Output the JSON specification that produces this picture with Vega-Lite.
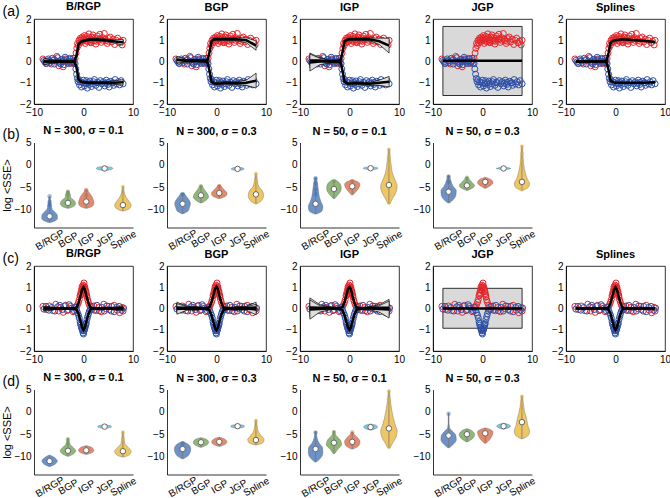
{
"$schema":"https://vega.github.io/schema/vega-lite/v6.json",
"padding":{"left":1,"top":0,"right":0,"bottom":0},
"background":"white",
"config":{
 "font":"Liberation Sans",
 "view":{"stroke":null},
 "axis":{"labelFont":"Liberation Sans","labelFontSize":10,"labelColor":"#000","domainColor":"#000","domainWidth":0.8,"ticks":false,"grid":false,"labelPadding":3,"labelOverlap":false,"labelFlush":false,"tickCount":20,"titleFont":"Liberation Sans","titleFontSize":11,"titleFontWeight":"normal","titleColor":"#000","titlePadding":2},
 "title":{"font":"Liberation Sans","fontSize":11,"fontWeight":"bold","color":"#000","offset":0,"dy":3,"frame":"group"}
},
"resolve":{"scale":{"color":"independent"}},
"datasets":{
"ptsA":[
{"x":-8.2,"y":0.12,"s":"r"},{"x":-7.6,"y":-0.08,"s":"r"},{"x":-7.0,"y":0.05,"s":"r"},{"x":-6.5,"y":-0.12,"s":"r"},{"x":-5.9,"y":0.1,"s":"r"},{"x":-5.4,"y":0.24,"s":"r"},{"x":-5.0,"y":-0.2,"s":"r"},{"x":-4.5,"y":0.08,"s":"r"},{"x":-4.1,"y":-0.25,"s":"r"},{"x":-3.6,"y":0.12,"s":"r"},{"x":-3.2,"y":-0.06,"s":"r"},{"x":-2.8,"y":0.15,"s":"r"},{"x":-2.4,"y":-0.1,"s":"r"},{"x":-2.0,"y":0.05,"s":"r"},{"x":-1.7,"y":0.15,"s":"r"},{"x":-1.5,"y":0.4,"s":"r"},{"x":-1.35,"y":0.62,"s":"r"},{"x":-1.2,"y":0.85,"s":"r"},{"x":-1.05,"y":0.75,"s":"r"},{"x":-0.9,"y":1.0,"s":"r"},{"x":-0.75,"y":0.88,"s":"r"},{"x":-0.6,"y":1.1,"s":"r"},{"x":-0.4,"y":0.92,"s":"r"},{"x":-0.2,"y":1.15,"s":"r"},{"x":0.0,"y":0.98,"s":"r"},{"x":0.2,"y":1.22,"s":"r"},{"x":0.35,"y":0.85,"s":"r"},{"x":0.5,"y":1.05,"s":"r"},{"x":0.7,"y":1.18,"s":"r"},{"x":0.9,"y":0.95,"s":"r"},{"x":1.1,"y":1.3,"s":"r"},{"x":1.3,"y":1.02,"s":"r"},{"x":1.5,"y":0.88,"s":"r"},{"x":1.7,"y":1.15,"s":"r"},{"x":1.9,"y":1.25,"s":"r"},{"x":2.1,"y":0.97,"s":"r"},{"x":2.3,"y":1.1,"s":"r"},{"x":2.5,"y":0.82,"s":"r"},{"x":2.8,"y":1.2,"s":"r"},{"x":3.0,"y":1.0,"s":"r"},{"x":3.3,"y":1.28,"s":"r"},{"x":3.6,"y":0.9,"s":"r"},{"x":3.9,"y":1.12,"s":"r"},{"x":4.2,"y":1.32,"s":"r"},{"x":4.5,"y":0.98,"s":"r"},{"x":4.8,"y":0.85,"s":"r"},{"x":5.1,"y":1.08,"s":"r"},{"x":5.4,"y":1.15,"s":"r"},{"x":5.7,"y":0.92,"s":"r"},{"x":6.0,"y":1.05,"s":"r"},{"x":6.3,"y":0.8,"s":"r"},{"x":6.6,"y":1.0,"s":"r"},{"x":6.9,"y":1.1,"s":"r"},{"x":7.2,"y":0.88,"s":"r"},{"x":7.5,"y":0.95,"s":"r"},{"x":7.8,"y":0.78,"s":"r"},{"x":8.0,"y":1.0,"s":"r"},{"x":0.1,"y":1.05,"s":"r"},{"x":0.6,"y":0.95,"s":"r"},{"x":1.2,"y":1.12,"s":"r"},{"x":1.6,"y":1.0,"s":"r"},{"x":2.0,"y":1.05,"s":"r"},{"x":2.6,"y":0.95,"s":"r"},{"x":3.2,"y":1.08,"s":"r"},{"x":3.8,"y":1.0,"s":"r"},{"x":4.4,"y":1.05,"s":"r"},{"x":5.0,"y":0.95,"s":"r"},{"x":-0.5,"y":1.0,"s":"r"},{"x":-0.1,"y":1.08,"s":"r"},{"x":0.8,"y":1.08,"s":"r"},{"x":1.4,"y":0.92,"s":"r"},{"x":2.4,"y":1.0,"s":"r"},{"x":3.5,"y":1.05,"s":"r"},
{"x":-8.0,"y":0.05,"s":"b"},{"x":-7.5,"y":-0.1,"s":"b"},{"x":-7.1,"y":0.12,"s":"b"},{"x":-6.7,"y":-0.05,"s":"b"},{"x":-6.3,"y":0.15,"s":"b"},{"x":-5.9,"y":-0.12,"s":"b"},{"x":-5.5,"y":0.02,"s":"b"},{"x":-5.2,"y":0.18,"s":"b"},{"x":-4.8,"y":-0.08,"s":"b"},{"x":-4.4,"y":0.1,"s":"b"},{"x":-4.0,"y":-0.15,"s":"b"},{"x":-3.7,"y":0.2,"s":"b"},{"x":-3.3,"y":0.0,"s":"b"},{"x":-3.0,"y":-0.1,"s":"b"},{"x":-2.7,"y":0.12,"s":"b"},{"x":-2.4,"y":-0.05,"s":"b"},{"x":-2.1,"y":0.15,"s":"b"},{"x":-1.9,"y":-0.08,"s":"b"},{"x":-6.0,"y":0.05,"s":"b"},{"x":-5.0,"y":-0.02,"s":"b"},{"x":-4.2,"y":0.0,"s":"b"},{"x":-3.5,"y":0.08,"s":"b"},{"x":-2.9,"y":0.02,"s":"b"},{"x":-2.2,"y":0.0,"s":"b"},{"x":-7.8,"y":-0.02,"s":"b"},{"x":-6.9,"y":0.02,"s":"b"},{"x":-4.6,"y":-0.12,"s":"b"},{"x":-3.9,"y":0.05,"s":"b"},{"x":-1.7,"y":-0.1,"s":"b"},{"x":-1.55,"y":-0.35,"s":"b"},{"x":-1.4,"y":-0.6,"s":"b"},{"x":-1.25,"y":-0.8,"s":"b"},{"x":-1.1,"y":-0.95,"s":"b"},{"x":-0.95,"y":-0.85,"s":"b"},{"x":-0.8,"y":-1.1,"s":"b"},{"x":-0.6,"y":-0.95,"s":"b"},{"x":-0.4,"y":-1.2,"s":"b"},{"x":-0.2,"y":-1.0,"s":"b"},{"x":0.0,"y":-0.88,"s":"b"},{"x":0.2,"y":-1.15,"s":"b"},{"x":0.4,"y":-1.05,"s":"b"},{"x":0.6,"y":-0.9,"s":"b"},{"x":0.8,"y":-1.25,"s":"b"},{"x":1.0,"y":-1.0,"s":"b"},{"x":1.3,"y":-0.92,"s":"b"},{"x":1.6,"y":-1.18,"s":"b"},{"x":1.9,"y":-1.05,"s":"b"},{"x":2.2,"y":-0.85,"s":"b"},{"x":2.5,"y":-1.12,"s":"b"},{"x":2.8,"y":-0.98,"s":"b"},{"x":3.1,"y":-1.22,"s":"b"},{"x":3.4,"y":-0.9,"s":"b"},{"x":3.7,"y":-1.05,"s":"b"},{"x":4.0,"y":-0.95,"s":"b"},{"x":4.3,"y":-1.15,"s":"b"},{"x":4.6,"y":-0.88,"s":"b"},{"x":4.9,"y":-1.08,"s":"b"},{"x":5.2,"y":-1.2,"s":"b"},{"x":5.5,"y":-0.93,"s":"b"},{"x":5.8,"y":-1.0,"s":"b"},{"x":6.1,"y":-1.12,"s":"b"},{"x":6.4,"y":-0.85,"s":"b"},{"x":6.7,"y":-1.05,"s":"b"},{"x":7.0,"y":-0.95,"s":"b"},{"x":7.3,"y":-1.1,"s":"b"},{"x":7.6,"y":-0.9,"s":"b"},{"x":8.0,"y":-1.05,"s":"b"},{"x":0.5,"y":-1.0,"s":"b"},{"x":1.2,"y":-1.08,"s":"b"},{"x":2.0,"y":-0.95,"s":"b"},{"x":3.0,"y":-1.0,"s":"b"},{"x":4.4,"y":-1.02,"s":"b"},{"x":5.0,"y":-0.98,"s":"b"},{"x":6.0,"y":-1.0,"s":"b"}
],
"ptsC":[
{"x":-8.2,"y":0.1,"s":"r"},{"x":-7.5,"y":-0.05,"s":"r"},{"x":-6.9,"y":0.12,"s":"r"},{"x":-6.2,"y":-0.1,"s":"r"},{"x":-5.6,"y":0.2,"s":"r"},{"x":-5.0,"y":-0.12,"s":"r"},{"x":-4.6,"y":0.05,"s":"r"},{"x":-4.1,"y":-0.18,"s":"r"},{"x":-3.6,"y":0.15,"s":"r"},{"x":-3.1,"y":-0.05,"s":"r"},{"x":-2.6,"y":0.1,"s":"r"},{"x":-2.1,"y":-0.15,"s":"r"},{"x":-1.7,"y":0.05,"s":"r"},{"x":-1.4,"y":0.1,"s":"r"},{"x":-1.2,"y":0.18,"s":"r"},{"x":-1.0,"y":0.3,"s":"r"},{"x":-0.85,"y":0.42,"s":"r"},{"x":-0.7,"y":0.6,"s":"r"},{"x":-0.55,"y":0.75,"s":"r"},{"x":-0.4,"y":0.88,"s":"r"},{"x":-0.25,"y":0.95,"s":"r"},{"x":-0.1,"y":1.1,"s":"r"},{"x":0.0,"y":1.0,"s":"r"},{"x":0.1,"y":1.2,"s":"r"},{"x":0.25,"y":0.92,"s":"r"},{"x":0.4,"y":0.85,"s":"r"},{"x":0.55,"y":0.7,"s":"r"},{"x":0.7,"y":0.55,"s":"r"},{"x":0.85,"y":0.4,"s":"r"},{"x":1.0,"y":0.28,"s":"r"},{"x":1.2,"y":0.15,"s":"r"},{"x":1.4,"y":0.08,"s":"r"},{"x":-0.6,"y":0.62,"s":"r"},{"x":-0.3,"y":1.02,"s":"r"},{"x":0.2,"y":1.05,"s":"r"},{"x":0.5,"y":0.8,"s":"r"},{"x":-0.15,"y":0.85,"s":"r"},{"x":0.3,"y":0.98,"s":"r"},{"x":-0.45,"y":0.7,"s":"r"},{"x":0.65,"y":0.62,"s":"r"},{"x":1.7,"y":-0.05,"s":"r"},{"x":2.1,"y":0.12,"s":"r"},{"x":2.6,"y":-0.1,"s":"r"},{"x":3.1,"y":0.05,"s":"r"},{"x":3.6,"y":-0.15,"s":"r"},{"x":4.1,"y":0.2,"s":"r"},{"x":4.6,"y":-0.02,"s":"r"},{"x":5.1,"y":0.1,"s":"r"},{"x":5.6,"y":-0.12,"s":"r"},{"x":6.2,"y":0.15,"s":"r"},{"x":6.8,"y":-0.08,"s":"r"},{"x":7.3,"y":-0.2,"s":"r"},{"x":7.8,"y":0.05,"s":"r"},{"x":8.0,"y":-0.12,"s":"r"},
{"x":-8.0,"y":-0.03,"s":"b"},{"x":-7.6,"y":0.1,"s":"b"},{"x":-7.0,"y":-0.08,"s":"b"},{"x":-6.4,"y":0.05,"s":"b"},{"x":-5.8,"y":-0.12,"s":"b"},{"x":-5.2,"y":0.08,"s":"b"},{"x":-4.8,"y":0.15,"s":"b"},{"x":-4.3,"y":-0.05,"s":"b"},{"x":-3.8,"y":0.12,"s":"b"},{"x":-3.3,"y":-0.1,"s":"b"},{"x":-2.9,"y":0.18,"s":"b"},{"x":-2.4,"y":0.02,"s":"b"},{"x":-1.9,"y":-0.1,"s":"b"},{"x":-1.6,"y":0.05,"s":"b"},{"x":-1.4,"y":-0.08,"s":"b"},{"x":-1.2,"y":-0.2,"s":"b"},{"x":-1.0,"y":-0.32,"s":"b"},{"x":-0.85,"y":-0.45,"s":"b"},{"x":-0.7,"y":-0.62,"s":"b"},{"x":-0.55,"y":-0.78,"s":"b"},{"x":-0.4,"y":-0.9,"s":"b"},{"x":-0.25,"y":-1.0,"s":"b"},{"x":-0.1,"y":-1.15,"s":"b"},{"x":0.0,"y":-1.2,"s":"b"},{"x":0.1,"y":-1.05,"s":"b"},{"x":0.25,"y":-0.95,"s":"b"},{"x":0.4,"y":-0.82,"s":"b"},{"x":0.55,"y":-0.68,"s":"b"},{"x":0.7,"y":-0.52,"s":"b"},{"x":0.85,"y":-0.38,"s":"b"},{"x":1.0,"y":-0.25,"s":"b"},{"x":1.2,"y":-0.12,"s":"b"},{"x":1.4,"y":-0.05,"s":"b"},{"x":-0.6,"y":-0.7,"s":"b"},{"x":-0.3,"y":-0.95,"s":"b"},{"x":0.2,"y":-1.0,"s":"b"},{"x":0.5,"y":-0.75,"s":"b"},{"x":-0.15,"y":-1.05,"s":"b"},{"x":0.3,"y":-0.9,"s":"b"},{"x":1.7,"y":0.1,"s":"b"},{"x":2.2,"y":-0.08,"s":"b"},{"x":2.7,"y":0.15,"s":"b"},{"x":3.2,"y":-0.1,"s":"b"},{"x":3.7,"y":0.05,"s":"b"},{"x":4.2,"y":-0.12,"s":"b"},{"x":4.7,"y":0.12,"s":"b"},{"x":5.2,"y":-0.05,"s":"b"},{"x":5.7,"y":0.1,"s":"b"},{"x":6.2,"y":-0.15,"s":"b"},{"x":6.7,"y":0.05,"s":"b"},{"x":7.2,"y":0.1,"s":"b"},{"x":7.7,"y":-0.08,"s":"b"},{"x":8.1,"y":0.02,"s":"b"}
],
"fitA":[
{"m":"B","s":"r","x":-8,"y":0,"lo":-0.13,"hi":0.13},{"m":"B","s":"r","x":-6,"y":0,"lo":-0.06,"hi":0.06},{"m":"B","s":"r","x":-4,"y":0,"lo":-0.05,"hi":0.05},{"m":"B","s":"r","x":-2.5,"y":0,"lo":-0.05,"hi":0.05},{"m":"B","s":"r","x":-1.8,"y":0.02,"lo":-0.03,"hi":0.07},{"m":"B","s":"r","x":-1.4,"y":0.3,"lo":0.24,"hi":0.36},{"m":"B","s":"r","x":-1,"y":0.82,"lo":0.76,"hi":0.88},{"m":"B","s":"r","x":-0.5,"y":0.93,"lo":0.88,"hi":0.98},{"m":"B","s":"r","x":0,"y":0.97,"lo":0.92,"hi":1.02},{"m":"B","s":"r","x":1,"y":1.02,"lo":0.97,"hi":1.07},{"m":"B","s":"r","x":2,"y":1.04,"lo":0.99,"hi":1.09},{"m":"B","s":"r","x":4,"y":1.01,"lo":0.96,"hi":1.06},{"m":"B","s":"r","x":6,"y":0.95,"lo":0.88,"hi":1.02},{"m":"B","s":"r","x":8,"y":0.9,"lo":0.77,"hi":1.03},
{"m":"B","s":"b","x":-8,"y":0,"lo":-0.13,"hi":0.13},{"m":"B","s":"b","x":-6,"y":0,"lo":-0.06,"hi":0.06},{"m":"B","s":"b","x":-4,"y":0,"lo":-0.05,"hi":0.05},{"m":"B","s":"b","x":-2.5,"y":0,"lo":-0.05,"hi":0.05},{"m":"B","s":"b","x":-1.8,"y":-0.02,"lo":-0.07,"hi":0.03},{"m":"B","s":"b","x":-1.4,"y":-0.3,"lo":-0.36,"hi":-0.24},{"m":"B","s":"b","x":-1,"y":-0.85,"lo":-0.91,"hi":-0.79},{"m":"B","s":"b","x":-0.5,"y":-0.95,"lo":-1.0,"hi":-0.9},{"m":"B","s":"b","x":0,"y":-0.98,"lo":-1.03,"hi":-0.93},{"m":"B","s":"b","x":1,"y":-1.0,"lo":-1.05,"hi":-0.95},{"m":"B","s":"b","x":2,"y":-1.0,"lo":-1.05,"hi":-0.95},{"m":"B","s":"b","x":4,"y":-1.0,"lo":-1.05,"hi":-0.95},{"m":"B","s":"b","x":6,"y":-1.0,"lo":-1.07,"hi":-0.93},{"m":"B","s":"b","x":8,"y":-0.98,"lo":-1.11,"hi":-0.85},
{"m":"G","s":"r","x":-8,"y":0.08,"lo":-0.07,"hi":0.23},{"m":"G","s":"r","x":-6,"y":0.03,"lo":-0.03,"hi":0.09},{"m":"G","s":"r","x":-4,"y":0.04,"lo":-0.01,"hi":0.09},{"m":"G","s":"r","x":-2.5,"y":0.02,"lo":-0.03,"hi":0.07},{"m":"G","s":"r","x":-1.8,"y":0.08,"lo":0.03,"hi":0.13},{"m":"G","s":"r","x":-1.4,"y":0.45,"lo":0.39,"hi":0.51},{"m":"G","s":"r","x":-1,"y":0.95,"lo":0.89,"hi":1.01},{"m":"G","s":"r","x":-0.5,"y":1.05,"lo":1.0,"hi":1.1},{"m":"G","s":"r","x":0,"y":1.05,"lo":1.0,"hi":1.1},{"m":"G","s":"r","x":1,"y":1.05,"lo":1.0,"hi":1.1},{"m":"G","s":"r","x":2,"y":1.05,"lo":1.0,"hi":1.1},{"m":"G","s":"r","x":4,"y":1.05,"lo":0.99,"hi":1.11},{"m":"G","s":"r","x":6,"y":1.0,"lo":0.88,"hi":1.12},{"m":"G","s":"r","x":8,"y":0.75,"lo":0.53,"hi":0.97},
{"m":"G","s":"b","x":-8,"y":0.08,"lo":-0.07,"hi":0.23},{"m":"G","s":"b","x":-6,"y":0.03,"lo":-0.03,"hi":0.09},{"m":"G","s":"b","x":-4,"y":0.04,"lo":-0.01,"hi":0.09},{"m":"G","s":"b","x":-2.5,"y":0.02,"lo":-0.03,"hi":0.07},{"m":"G","s":"b","x":-1.8,"y":-0.05,"lo":-0.1,"hi":0.0},{"m":"G","s":"b","x":-1.4,"y":-0.45,"lo":-0.51,"hi":-0.39},{"m":"G","s":"b","x":-1,"y":-0.95,"lo":-1.01,"hi":-0.89},{"m":"G","s":"b","x":-0.5,"y":-1.02,"lo":-1.07,"hi":-0.97},{"m":"G","s":"b","x":0,"y":-1.03,"lo":-1.08,"hi":-0.98},{"m":"G","s":"b","x":1,"y":-1.02,"lo":-1.07,"hi":-0.97},{"m":"G","s":"b","x":2,"y":-1.0,"lo":-1.05,"hi":-0.95},{"m":"G","s":"b","x":4,"y":-1.02,"lo":-1.08,"hi":-0.96},{"m":"G","s":"b","x":6,"y":-1.0,"lo":-1.12,"hi":-0.88},{"m":"G","s":"b","x":8,"y":-0.9,"lo":-1.25,"hi":-0.55},
{"m":"I","s":"r","x":-8,"y":0.05,"lo":-0.3,"hi":0.4},{"m":"I","s":"r","x":-6,"y":0.05,"lo":-0.07,"hi":0.17},{"m":"I","s":"r","x":-4,"y":0.0,"lo":-0.06,"hi":0.06},{"m":"I","s":"r","x":-2.5,"y":0.02,"lo":-0.03,"hi":0.07},{"m":"I","s":"r","x":-1.8,"y":0.05,"lo":0.0,"hi":0.1},{"m":"I","s":"r","x":-1.4,"y":0.45,"lo":0.39,"hi":0.51},{"m":"I","s":"r","x":-1,"y":0.95,"lo":0.89,"hi":1.01},{"m":"I","s":"r","x":-0.5,"y":1.02,"lo":0.97,"hi":1.07},{"m":"I","s":"r","x":0,"y":1.05,"lo":1.0,"hi":1.1},{"m":"I","s":"r","x":1,"y":1.05,"lo":1.0,"hi":1.1},{"m":"I","s":"r","x":2,"y":1.05,"lo":1.0,"hi":1.1},{"m":"I","s":"r","x":4,"y":1.05,"lo":0.99,"hi":1.11},{"m":"I","s":"r","x":6,"y":0.95,"lo":0.8,"hi":1.1},{"m":"I","s":"r","x":8,"y":0.75,"lo":0.4,"hi":1.1},
{"m":"I","s":"b","x":-8,"y":-0.05,"lo":-0.45,"hi":0.35},{"m":"I","s":"b","x":-6,"y":0.0,"lo":-0.15,"hi":0.15},{"m":"I","s":"b","x":-4,"y":0.0,"lo":-0.06,"hi":0.06},{"m":"I","s":"b","x":-2.5,"y":0.0,"lo":-0.05,"hi":0.05},{"m":"I","s":"b","x":-1.8,"y":-0.05,"lo":-0.1,"hi":0.0},{"m":"I","s":"b","x":-1.4,"y":-0.45,"lo":-0.51,"hi":-0.39},{"m":"I","s":"b","x":-1,"y":-0.95,"lo":-1.01,"hi":-0.89},{"m":"I","s":"b","x":-0.5,"y":-1.02,"lo":-1.07,"hi":-0.97},{"m":"I","s":"b","x":0,"y":-1.03,"lo":-1.08,"hi":-0.98},{"m":"I","s":"b","x":1,"y":-1.02,"lo":-1.07,"hi":-0.97},{"m":"I","s":"b","x":2,"y":-1.02,"lo":-1.07,"hi":-0.97},{"m":"I","s":"b","x":4,"y":-1.05,"lo":-1.11,"hi":-0.99},{"m":"I","s":"b","x":6,"y":-1.0,"lo":-1.12,"hi":-0.88},{"m":"I","s":"b","x":8,"y":-0.95,"lo":-1.2,"hi":-0.7},
{"m":"S","s":"r","x":-8,"y":0},{"m":"S","s":"r","x":-6,"y":0},{"m":"S","s":"r","x":-4,"y":0},{"m":"S","s":"r","x":-2.5,"y":0},{"m":"S","s":"r","x":-1.8,"y":0.05},{"m":"S","s":"r","x":-1.4,"y":0.4},{"m":"S","s":"r","x":-1,"y":0.88},{"m":"S","s":"r","x":-0.5,"y":0.97},{"m":"S","s":"r","x":0,"y":1.0},{"m":"S","s":"r","x":1,"y":1.03},{"m":"S","s":"r","x":2,"y":1.03},{"m":"S","s":"r","x":4,"y":1.0},{"m":"S","s":"r","x":6,"y":0.96},{"m":"S","s":"r","x":8,"y":0.92},
{"m":"S","s":"b","x":-8,"y":0},{"m":"S","s":"b","x":-6,"y":0},{"m":"S","s":"b","x":-4,"y":0},{"m":"S","s":"b","x":-2.5,"y":0},{"m":"S","s":"b","x":-1.8,"y":-0.05},{"m":"S","s":"b","x":-1.4,"y":-0.4},{"m":"S","s":"b","x":-1,"y":-0.9},{"m":"S","s":"b","x":-0.5,"y":-0.97},{"m":"S","s":"b","x":0,"y":-1.0},{"m":"S","s":"b","x":1,"y":-1.0},{"m":"S","s":"b","x":2,"y":-1.0},{"m":"S","s":"b","x":4,"y":-1.0},{"m":"S","s":"b","x":6,"y":-1.0},{"m":"S","s":"b","x":8,"y":-0.98},
{"m":"J","s":"r","x":-8,"y":0.03},{"m":"J","s":"r","x":8,"y":0.03}
],
"fitC":[
{"m":"B","s":"r","x":-8,"y":0,"lo":-0.1,"hi":0.1},{"m":"B","s":"r","x":-6,"y":0,"lo":-0.05,"hi":0.05},{"m":"B","s":"r","x":-4,"y":0,"lo":-0.04,"hi":0.04},{"m":"B","s":"r","x":-2.5,"y":0,"lo":-0.04,"hi":0.04},{"m":"B","s":"r","x":-1.8,"y":0,"lo":-0.04,"hi":0.04},{"m":"B","s":"r","x":-1.4,"y":0.05,"lo":0.01,"hi":0.09},{"m":"B","s":"r","x":-1,"y":0.25,"lo":0.21,"hi":0.29},{"m":"B","s":"r","x":-0.6,"y":0.6,"lo":0.56,"hi":0.64},{"m":"B","s":"r","x":-0.3,"y":0.88,"lo":0.84,"hi":0.92},{"m":"B","s":"r","x":0,"y":1.0,"lo":0.96,"hi":1.04},{"m":"B","s":"r","x":0.3,"y":0.88,"lo":0.84,"hi":0.92},{"m":"B","s":"r","x":0.6,"y":0.6,"lo":0.56,"hi":0.64},{"m":"B","s":"r","x":1,"y":0.25,"lo":0.21,"hi":0.29},{"m":"B","s":"r","x":1.4,"y":0.05,"lo":0.01,"hi":0.09},{"m":"B","s":"r","x":1.8,"y":0,"lo":-0.04,"hi":0.04},{"m":"B","s":"r","x":2.5,"y":0,"lo":-0.04,"hi":0.04},{"m":"B","s":"r","x":4,"y":0,"lo":-0.04,"hi":0.04},{"m":"B","s":"r","x":6,"y":0,"lo":-0.05,"hi":0.05},{"m":"B","s":"r","x":8,"y":0,"lo":-0.1,"hi":0.1},
{"m":"B","s":"b","x":-8,"y":0,"lo":-0.1,"hi":0.1},{"m":"B","s":"b","x":-6,"y":0,"lo":-0.05,"hi":0.05},{"m":"B","s":"b","x":-4,"y":0,"lo":-0.04,"hi":0.04},{"m":"B","s":"b","x":-2.5,"y":0,"lo":-0.04,"hi":0.04},{"m":"B","s":"b","x":-1.8,"y":0,"lo":-0.04,"hi":0.04},{"m":"B","s":"b","x":-1.4,"y":-0.05,"lo":-0.09,"hi":-0.01},{"m":"B","s":"b","x":-1,"y":-0.25,"lo":-0.29,"hi":-0.21},{"m":"B","s":"b","x":-0.6,"y":-0.6,"lo":-0.64,"hi":-0.56},{"m":"B","s":"b","x":-0.3,"y":-0.88,"lo":-0.92,"hi":-0.84},{"m":"B","s":"b","x":0,"y":-1.0,"lo":-1.04,"hi":-0.96},{"m":"B","s":"b","x":0.3,"y":-0.88,"lo":-0.92,"hi":-0.84},{"m":"B","s":"b","x":0.6,"y":-0.6,"lo":-0.64,"hi":-0.56},{"m":"B","s":"b","x":1,"y":-0.25,"lo":-0.29,"hi":-0.21},{"m":"B","s":"b","x":1.4,"y":-0.05,"lo":-0.09,"hi":-0.01},{"m":"B","s":"b","x":1.8,"y":0,"lo":-0.04,"hi":0.04},{"m":"B","s":"b","x":2.5,"y":0,"lo":-0.04,"hi":0.04},{"m":"B","s":"b","x":4,"y":0,"lo":-0.04,"hi":0.04},{"m":"B","s":"b","x":6,"y":0,"lo":-0.05,"hi":0.05},{"m":"B","s":"b","x":8,"y":0,"lo":-0.1,"hi":0.1},
{"m":"G","s":"r","x":-8,"y":0.05,"lo":-0.2,"hi":0.3},{"m":"G","s":"r","x":-6,"y":0.02,"lo":-0.06,"hi":0.1},{"m":"G","s":"r","x":-4,"y":0.03,"lo":-0.02,"hi":0.08},{"m":"G","s":"r","x":-2.5,"y":0,"lo":-0.05,"hi":0.05},{"m":"G","s":"r","x":-1.8,"y":0.02,"lo":-0.03,"hi":0.07},{"m":"G","s":"r","x":-1.4,"y":0.08,"lo":0.03,"hi":0.13},{"m":"G","s":"r","x":-1,"y":0.3,"lo":0.25,"hi":0.35},{"m":"G","s":"r","x":-0.6,"y":0.65,"lo":0.6,"hi":0.7},{"m":"G","s":"r","x":-0.3,"y":0.92,"lo":0.87,"hi":0.97},{"m":"G","s":"r","x":0,"y":1.02,"lo":0.97,"hi":1.07},{"m":"G","s":"r","x":0.3,"y":0.9,"lo":0.85,"hi":0.95},{"m":"G","s":"r","x":0.6,"y":0.6,"lo":0.55,"hi":0.65},{"m":"G","s":"r","x":1,"y":0.25,"lo":0.2,"hi":0.3},{"m":"G","s":"r","x":1.4,"y":0.05,"lo":0.0,"hi":0.1},{"m":"G","s":"r","x":1.8,"y":0.02,"lo":-0.03,"hi":0.07},{"m":"G","s":"r","x":2.5,"y":0,"lo":-0.05,"hi":0.05},{"m":"G","s":"r","x":4,"y":0.03,"lo":-0.02,"hi":0.08},{"m":"G","s":"r","x":6,"y":0.02,"lo":-0.06,"hi":0.1},{"m":"G","s":"r","x":8,"y":0.05,"lo":-0.2,"hi":0.3},
{"m":"G","s":"b","x":-8,"y":-0.02,"lo":-0.27,"hi":0.23},{"m":"G","s":"b","x":-6,"y":0,"lo":-0.08,"hi":0.08},{"m":"G","s":"b","x":-4,"y":-0.02,"lo":-0.07,"hi":0.03},{"m":"G","s":"b","x":-2.5,"y":0,"lo":-0.05,"hi":0.05},{"m":"G","s":"b","x":-1.8,"y":-0.02,"lo":-0.07,"hi":0.03},{"m":"G","s":"b","x":-1.4,"y":-0.1,"lo":-0.15,"hi":-0.05},{"m":"G","s":"b","x":-1,"y":-0.32,"lo":-0.37,"hi":-0.27},{"m":"G","s":"b","x":-0.6,"y":-0.65,"lo":-0.7,"hi":-0.6},{"m":"G","s":"b","x":-0.3,"y":-0.92,"lo":-0.97,"hi":-0.87},{"m":"G","s":"b","x":0,"y":-1.02,"lo":-1.07,"hi":-0.97},{"m":"G","s":"b","x":0.3,"y":-0.9,"lo":-0.95,"hi":-0.85},{"m":"G","s":"b","x":0.6,"y":-0.6,"lo":-0.65,"hi":-0.55},{"m":"G","s":"b","x":1,"y":-0.28,"lo":-0.33,"hi":-0.23},{"m":"G","s":"b","x":1.4,"y":-0.08,"lo":-0.13,"hi":-0.03},{"m":"G","s":"b","x":1.8,"y":-0.02,"lo":-0.07,"hi":0.03},{"m":"G","s":"b","x":2.5,"y":0,"lo":-0.05,"hi":0.05},{"m":"G","s":"b","x":4,"y":-0.02,"lo":-0.07,"hi":0.03},{"m":"G","s":"b","x":6,"y":0,"lo":-0.08,"hi":0.08},{"m":"G","s":"b","x":8,"y":-0.05,"lo":-0.3,"hi":0.2},
{"m":"I","s":"r","x":-8,"y":0.05,"lo":-0.4,"hi":0.5},{"m":"I","s":"r","x":-6,"y":0.03,"lo":-0.12,"hi":0.18},{"m":"I","s":"r","x":-4,"y":0.02,"lo":-0.04,"hi":0.08},{"m":"I","s":"r","x":-2.5,"y":0,"lo":-0.05,"hi":0.05},{"m":"I","s":"r","x":-1.8,"y":0.02,"lo":-0.03,"hi":0.07},{"m":"I","s":"r","x":-1.4,"y":0.08,"lo":0.03,"hi":0.13},{"m":"I","s":"r","x":-1,"y":0.3,"lo":0.25,"hi":0.35},{"m":"I","s":"r","x":-0.6,"y":0.65,"lo":0.6,"hi":0.7},{"m":"I","s":"r","x":-0.3,"y":0.92,"lo":0.87,"hi":0.97},{"m":"I","s":"r","x":0,"y":1.0,"lo":0.95,"hi":1.05},{"m":"I","s":"r","x":0.3,"y":0.9,"lo":0.85,"hi":0.95},{"m":"I","s":"r","x":0.6,"y":0.6,"lo":0.55,"hi":0.65},{"m":"I","s":"r","x":1,"y":0.25,"lo":0.2,"hi":0.3},{"m":"I","s":"r","x":1.4,"y":0.05,"lo":0.0,"hi":0.1},{"m":"I","s":"r","x":1.8,"y":0.02,"lo":-0.03,"hi":0.07},{"m":"I","s":"r","x":2.5,"y":0,"lo":-0.05,"hi":0.05},{"m":"I","s":"r","x":4,"y":0.02,"lo":-0.04,"hi":0.08},{"m":"I","s":"r","x":6,"y":0.03,"lo":-0.12,"hi":0.18},{"m":"I","s":"r","x":8,"y":0.03,"lo":-0.37,"hi":0.43},
{"m":"I","s":"b","x":-8,"y":-0.05,"lo":-0.5,"hi":0.4},{"m":"I","s":"b","x":-6,"y":-0.02,"lo":-0.17,"hi":0.13},{"m":"I","s":"b","x":-4,"y":0,"lo":-0.06,"hi":0.06},{"m":"I","s":"b","x":-2.5,"y":0,"lo":-0.05,"hi":0.05},{"m":"I","s":"b","x":-1.8,"y":-0.02,"lo":-0.07,"hi":0.03},{"m":"I","s":"b","x":-1.4,"y":-0.1,"lo":-0.15,"hi":-0.05},{"m":"I","s":"b","x":-1,"y":-0.32,"lo":-0.37,"hi":-0.27},{"m":"I","s":"b","x":-0.6,"y":-0.65,"lo":-0.7,"hi":-0.6},{"m":"I","s":"b","x":-0.3,"y":-0.9,"lo":-0.95,"hi":-0.85},{"m":"I","s":"b","x":0,"y":-1.0,"lo":-1.05,"hi":-0.95},{"m":"I","s":"b","x":0.3,"y":-0.88,"lo":-0.93,"hi":-0.83},{"m":"I","s":"b","x":0.6,"y":-0.6,"lo":-0.65,"hi":-0.55},{"m":"I","s":"b","x":1,"y":-0.28,"lo":-0.33,"hi":-0.23},{"m":"I","s":"b","x":1.4,"y":-0.08,"lo":-0.13,"hi":-0.03},{"m":"I","s":"b","x":1.8,"y":-0.02,"lo":-0.07,"hi":0.03},{"m":"I","s":"b","x":2.5,"y":0,"lo":-0.05,"hi":0.05},{"m":"I","s":"b","x":4,"y":0,"lo":-0.06,"hi":0.06},{"m":"I","s":"b","x":6,"y":-0.02,"lo":-0.17,"hi":0.13},{"m":"I","s":"b","x":8,"y":-0.05,"lo":-0.45,"hi":0.35},
{"m":"S","s":"r","x":-8,"y":0},{"m":"S","s":"r","x":-6,"y":0},{"m":"S","s":"r","x":-4,"y":0},{"m":"S","s":"r","x":-2.5,"y":0},{"m":"S","s":"r","x":-1.8,"y":0},{"m":"S","s":"r","x":-1.4,"y":0.05},{"m":"S","s":"r","x":-1,"y":0.25},{"m":"S","s":"r","x":-0.6,"y":0.6},{"m":"S","s":"r","x":-0.3,"y":0.88},{"m":"S","s":"r","x":0,"y":1.0},{"m":"S","s":"r","x":0.3,"y":0.88},{"m":"S","s":"r","x":0.6,"y":0.6},{"m":"S","s":"r","x":1,"y":0.25},{"m":"S","s":"r","x":1.4,"y":0.05},{"m":"S","s":"r","x":1.8,"y":0},{"m":"S","s":"r","x":2.5,"y":0},{"m":"S","s":"r","x":4,"y":0},{"m":"S","s":"r","x":6,"y":0},{"m":"S","s":"r","x":8,"y":0},
{"m":"S","s":"b","x":-8,"y":0},{"m":"S","s":"b","x":-6,"y":0},{"m":"S","s":"b","x":-4,"y":0},{"m":"S","s":"b","x":-2.5,"y":0},{"m":"S","s":"b","x":-1.8,"y":0},{"m":"S","s":"b","x":-1.4,"y":-0.05},{"m":"S","s":"b","x":-1,"y":-0.25},{"m":"S","s":"b","x":-0.6,"y":-0.6},{"m":"S","s":"b","x":-0.3,"y":-0.88},{"m":"S","s":"b","x":0,"y":-1.0},{"m":"S","s":"b","x":0.3,"y":-0.88},{"m":"S","s":"b","x":0.6,"y":-0.6},{"m":"S","s":"b","x":1,"y":-0.25},{"m":"S","s":"b","x":1.4,"y":-0.05},{"m":"S","s":"b","x":1.8,"y":0},{"m":"S","s":"b","x":2.5,"y":0},{"m":"S","s":"b","x":4,"y":0},{"m":"S","s":"b","x":6,"y":0},{"m":"S","s":"b","x":8,"y":0},
{"m":"J","s":"r","x":-8,"y":0.0},{"m":"J","s":"r","x":8,"y":0.0}
],
"boxA":[{"x":-8,"x2":8,"y":-1.6,"y2":1.65}],
"boxC":[{"x":-8,"x2":8,"y":-0.93,"y2":0.95}],
"vio":[
{"p":1,"c":"B","y":-12.9,"lo":0.95,"hi":1.05},{"p":1,"c":"B","y":-12.5,"lo":0.7,"hi":1.3},{"p":1,"c":"B","y":-12,"lo":0.57,"hi":1.43},{"p":1,"c":"B","y":-11.3,"lo":0.58,"hi":1.42},{"p":1,"c":"B","y":-10.6,"lo":0.7,"hi":1.3},{"p":1,"c":"B","y":-10,"lo":0.85,"hi":1.15},{"p":1,"c":"B","y":-9.2,"lo":0.9,"hi":1.1},{"p":1,"c":"B","y":-8.3,"lo":0.93,"hi":1.07},{"p":1,"c":"B","y":-7.2,"lo":0.96,"hi":1.04},
{"p":1,"c":"G","y":-9.7,"lo":1.95,"hi":2.05},{"p":1,"c":"G","y":-9.3,"lo":1.7,"hi":2.3},{"p":1,"c":"G","y":-8.7,"lo":1.58,"hi":2.42},{"p":1,"c":"G","y":-8.0,"lo":1.65,"hi":2.35},{"p":1,"c":"G","y":-7.3,"lo":1.85,"hi":2.15},{"p":1,"c":"G","y":-6.5,"lo":1.88,"hi":2.12},{"p":1,"c":"G","y":-5.8,"lo":1.95,"hi":2.05},
{"p":1,"c":"I","y":-9.7,"lo":2.95,"hi":3.05},{"p":1,"c":"I","y":-9.2,"lo":2.65,"hi":3.35},{"p":1,"c":"I","y":-8.5,"lo":2.58,"hi":3.42},{"p":1,"c":"I","y":-7.8,"lo":2.62,"hi":3.38},{"p":1,"c":"I","y":-7.0,"lo":2.7,"hi":3.3},{"p":1,"c":"I","y":-6.2,"lo":2.85,"hi":3.15},{"p":1,"c":"I","y":-5.5,"lo":2.95,"hi":3.05},
{"p":1,"c":"J","y":-1.25,"lo":3.95,"hi":4.05},{"p":1,"c":"J","y":-1.05,"lo":3.62,"hi":4.38},{"p":1,"c":"J","y":-0.8,"lo":3.55,"hi":4.45},{"p":1,"c":"J","y":-0.55,"lo":3.62,"hi":4.38},{"p":1,"c":"J","y":-0.35,"lo":3.95,"hi":4.05},
{"p":1,"c":"S","y":-10.3,"lo":4.95,"hi":5.05},{"p":1,"c":"S","y":-9.8,"lo":4.65,"hi":5.35},{"p":1,"c":"S","y":-9.0,"lo":4.55,"hi":5.45},{"p":1,"c":"S","y":-8.2,"lo":4.65,"hi":5.35},{"p":1,"c":"S","y":-7.4,"lo":4.8,"hi":5.2},{"p":1,"c":"S","y":-6.5,"lo":4.9,"hi":5.1},{"p":1,"c":"S","y":-5.5,"lo":4.95,"hi":5.05},{"p":1,"c":"S","y":-4.8,"lo":4.97,"hi":5.03},
{"p":2,"c":"B","y":-10.9,"lo":0.95,"hi":1.05},{"p":2,"c":"B","y":-10.3,"lo":0.7,"hi":1.3},{"p":2,"c":"B","y":-9.5,"lo":0.62,"hi":1.38},{"p":2,"c":"B","y":-8.7,"lo":0.57,"hi":1.43},{"p":2,"c":"B","y":-7.8,"lo":0.65,"hi":1.35},{"p":2,"c":"B","y":-7.0,"lo":0.8,"hi":1.2},{"p":2,"c":"B","y":-6.3,"lo":0.92,"hi":1.08},
{"p":2,"c":"G","y":-8.5,"lo":1.95,"hi":2.05},{"p":2,"c":"G","y":-8.0,"lo":1.75,"hi":2.25},{"p":2,"c":"G","y":-7.2,"lo":1.58,"hi":2.42},{"p":2,"c":"G","y":-6.4,"lo":1.65,"hi":2.35},{"p":2,"c":"G","y":-5.6,"lo":1.8,"hi":2.2},{"p":2,"c":"G","y":-4.6,"lo":1.95,"hi":2.05},
{"p":2,"c":"I","y":-7.5,"lo":2.95,"hi":3.05},{"p":2,"c":"I","y":-7.0,"lo":2.65,"hi":3.35},{"p":2,"c":"I","y":-6.4,"lo":2.57,"hi":3.43},{"p":2,"c":"I","y":-5.7,"lo":2.7,"hi":3.3},{"p":2,"c":"I","y":-5.0,"lo":2.85,"hi":3.15},{"p":2,"c":"I","y":-4.5,"lo":2.95,"hi":3.05},
{"p":2,"c":"J","y":-1.25,"lo":3.95,"hi":4.05},{"p":2,"c":"J","y":-1.1,"lo":3.7,"hi":4.3},{"p":2,"c":"J","y":-0.9,"lo":3.65,"hi":4.35},{"p":2,"c":"J","y":-0.7,"lo":3.7,"hi":4.3},{"p":2,"c":"J","y":-0.55,"lo":3.95,"hi":4.05},
{"p":2,"c":"S","y":-8.7,"lo":4.95,"hi":5.05},{"p":2,"c":"S","y":-8.0,"lo":4.7,"hi":5.3},{"p":2,"c":"S","y":-6.8,"lo":4.58,"hi":5.42},{"p":2,"c":"S","y":-5.8,"lo":4.65,"hi":5.35},{"p":2,"c":"S","y":-4.8,"lo":4.85,"hi":5.15},{"p":2,"c":"S","y":-3.5,"lo":4.92,"hi":5.08},{"p":2,"c":"S","y":-2.5,"lo":4.95,"hi":5.05},{"p":2,"c":"S","y":-1.9,"lo":4.97,"hi":5.03},
{"p":3,"c":"B","y":-11.0,"lo":0.95,"hi":1.05},{"p":3,"c":"B","y":-10.3,"lo":0.65,"hi":1.35},{"p":3,"c":"B","y":-9.3,"lo":0.6,"hi":1.4},{"p":3,"c":"B","y":-8.3,"lo":0.7,"hi":1.3},{"p":3,"c":"B","y":-7.0,"lo":0.8,"hi":1.2},{"p":3,"c":"B","y":-5.5,"lo":0.85,"hi":1.15},{"p":3,"c":"B","y":-4.0,"lo":0.9,"hi":1.1},{"p":3,"c":"B","y":-2.8,"lo":0.95,"hi":1.05},
{"p":3,"c":"G","y":-7.5,"lo":1.95,"hi":2.05},{"p":3,"c":"G","y":-6.8,"lo":1.8,"hi":2.2},{"p":3,"c":"G","y":-6.0,"lo":1.65,"hi":2.35},{"p":3,"c":"G","y":-5.2,"lo":1.6,"hi":2.4},{"p":3,"c":"G","y":-4.3,"lo":1.65,"hi":2.35},{"p":3,"c":"G","y":-3.4,"lo":1.9,"hi":2.1},
{"p":3,"c":"I","y":-6.7,"lo":2.95,"hi":3.05},{"p":3,"c":"I","y":-6.0,"lo":2.8,"hi":3.2},{"p":3,"c":"I","y":-5.2,"lo":2.65,"hi":3.35},{"p":3,"c":"I","y":-4.4,"lo":2.58,"hi":3.42},{"p":3,"c":"I","y":-3.8,"lo":2.7,"hi":3.3},{"p":3,"c":"I","y":-3.4,"lo":2.95,"hi":3.05},
{"p":3,"c":"J","y":-1.05,"lo":3.95,"hi":4.05},{"p":3,"c":"J","y":-0.9,"lo":3.65,"hi":4.35},{"p":3,"c":"J","y":-0.75,"lo":3.6,"hi":4.4},{"p":3,"c":"J","y":-0.6,"lo":3.65,"hi":4.35},{"p":3,"c":"J","y":-0.45,"lo":3.95,"hi":4.05},
{"p":3,"c":"S","y":-8.7,"lo":4.95,"hi":5.05},{"p":3,"c":"S","y":-7.5,"lo":4.8,"hi":5.2},{"p":3,"c":"S","y":-6.0,"lo":4.6,"hi":5.4},{"p":3,"c":"S","y":-4.8,"lo":4.55,"hi":5.45},{"p":3,"c":"S","y":-3.5,"lo":4.65,"hi":5.35},{"p":3,"c":"S","y":-2.0,"lo":4.8,"hi":5.2},{"p":3,"c":"S","y":0,"lo":4.88,"hi":5.12},{"p":3,"c":"S","y":2.0,"lo":4.94,"hi":5.06},{"p":3,"c":"S","y":3.6,"lo":4.97,"hi":5.03},
{"p":4,"c":"B","y":-8.5,"lo":0.95,"hi":1.05},{"p":4,"c":"B","y":-7.8,"lo":0.75,"hi":1.25},{"p":4,"c":"B","y":-6.8,"lo":0.6,"hi":1.4},{"p":4,"c":"B","y":-5.8,"lo":0.58,"hi":1.42},{"p":4,"c":"B","y":-4.8,"lo":0.75,"hi":1.25},{"p":4,"c":"B","y":-3.5,"lo":0.88,"hi":1.12},{"p":4,"c":"B","y":-2.4,"lo":0.95,"hi":1.05},
{"p":4,"c":"G","y":-5.7,"lo":1.95,"hi":2.05},{"p":4,"c":"G","y":-5.2,"lo":1.7,"hi":2.3},{"p":4,"c":"G","y":-4.6,"lo":1.58,"hi":2.42},{"p":4,"c":"G","y":-4.0,"lo":1.7,"hi":2.3},{"p":4,"c":"G","y":-3.3,"lo":1.85,"hi":2.15},{"p":4,"c":"G","y":-2.7,"lo":1.95,"hi":2.05},
{"p":4,"c":"I","y":-5.2,"lo":2.95,"hi":3.05},{"p":4,"c":"I","y":-4.6,"lo":2.7,"hi":3.3},{"p":4,"c":"I","y":-4.0,"lo":2.58,"hi":3.42},{"p":4,"c":"I","y":-3.4,"lo":2.65,"hi":3.35},{"p":4,"c":"I","y":-2.8,"lo":2.95,"hi":3.05},
{"p":4,"c":"J","y":-1.05,"lo":3.95,"hi":4.05},{"p":4,"c":"J","y":-0.9,"lo":3.65,"hi":4.35},{"p":4,"c":"J","y":-0.8,"lo":3.6,"hi":4.4},{"p":4,"c":"J","y":-0.7,"lo":3.65,"hi":4.35},{"p":4,"c":"J","y":-0.55,"lo":3.95,"hi":4.05},
{"p":4,"c":"S","y":-5.7,"lo":4.95,"hi":5.05},{"p":4,"c":"S","y":-5.0,"lo":4.65,"hi":5.35},{"p":4,"c":"S","y":-4.2,"lo":4.58,"hi":5.42},{"p":4,"c":"S","y":-3.2,"lo":4.7,"hi":5.3},{"p":4,"c":"S","y":-2.0,"lo":4.8,"hi":5.2},{"p":4,"c":"S","y":0,"lo":4.9,"hi":5.1},{"p":4,"c":"S","y":2.0,"lo":4.94,"hi":5.06},{"p":4,"c":"S","y":4.3,"lo":4.97,"hi":5.03},
{"p":5,"c":"B","y":-12.2,"lo":0.95,"hi":1.05},{"p":5,"c":"B","y":-11.7,"lo":0.7,"hi":1.3},{"p":5,"c":"B","y":-11.0,"lo":0.58,"hi":1.42},{"p":5,"c":"B","y":-10.3,"lo":0.7,"hi":1.3},{"p":5,"c":"B","y":-9.7,"lo":0.95,"hi":1.05},
{"p":5,"c":"G","y":-9.9,"lo":1.95,"hi":2.05},{"p":5,"c":"G","y":-9.4,"lo":1.7,"hi":2.3},{"p":5,"c":"G","y":-8.7,"lo":1.58,"hi":2.42},{"p":5,"c":"G","y":-8.0,"lo":1.7,"hi":2.3},{"p":5,"c":"G","y":-7.2,"lo":1.9,"hi":2.1},{"p":5,"c":"G","y":-6.5,"lo":1.94,"hi":2.06},{"p":5,"c":"G","y":-5.9,"lo":1.97,"hi":2.03},
{"p":5,"c":"I","y":-9.5,"lo":2.95,"hi":3.05},{"p":5,"c":"I","y":-9.1,"lo":2.68,"hi":3.32},{"p":5,"c":"I","y":-8.6,"lo":2.58,"hi":3.42},{"p":5,"c":"I","y":-8.0,"lo":2.68,"hi":3.32},{"p":5,"c":"I","y":-7.6,"lo":2.95,"hi":3.05},
{"p":5,"c":"J","y":-3.65,"lo":3.95,"hi":4.05},{"p":5,"c":"J","y":-3.5,"lo":3.67,"hi":4.33},{"p":5,"c":"J","y":-3.3,"lo":3.62,"hi":4.38},{"p":5,"c":"J","y":-3.1,"lo":3.67,"hi":4.33},{"p":5,"c":"J","y":-2.95,"lo":3.95,"hi":4.05},
{"p":5,"c":"S","y":-10.1,"lo":4.95,"hi":5.05},{"p":5,"c":"S","y":-9.6,"lo":4.65,"hi":5.35},{"p":5,"c":"S","y":-8.8,"lo":4.55,"hi":5.45},{"p":5,"c":"S","y":-8.0,"lo":4.7,"hi":5.3},{"p":5,"c":"S","y":-7.0,"lo":4.9,"hi":5.1},{"p":5,"c":"S","y":-5.8,"lo":4.94,"hi":5.06},{"p":5,"c":"S","y":-4.4,"lo":4.97,"hi":5.03},
{"p":6,"c":"B","y":-10.5,"lo":0.95,"hi":1.05},{"p":6,"c":"B","y":-10,"lo":0.75,"hi":1.25},{"p":6,"c":"B","y":-9.2,"lo":0.6,"hi":1.4},{"p":6,"c":"B","y":-8.3,"lo":0.55,"hi":1.45},{"p":6,"c":"B","y":-7.4,"lo":0.65,"hi":1.35},{"p":6,"c":"B","y":-6.7,"lo":0.95,"hi":1.05},
{"p":6,"c":"G","y":-7.9,"lo":1.95,"hi":2.05},{"p":6,"c":"G","y":-7.4,"lo":1.68,"hi":2.32},{"p":6,"c":"G","y":-6.8,"lo":1.58,"hi":2.42},{"p":6,"c":"G","y":-6.2,"lo":1.68,"hi":2.32},{"p":6,"c":"G","y":-5.8,"lo":1.95,"hi":2.05},
{"p":6,"c":"I","y":-7.7,"lo":2.95,"hi":3.05},{"p":6,"c":"I","y":-7.2,"lo":2.65,"hi":3.35},{"p":6,"c":"I","y":-6.7,"lo":2.58,"hi":3.42},{"p":6,"c":"I","y":-6.1,"lo":2.7,"hi":3.3},{"p":6,"c":"I","y":-5.7,"lo":2.95,"hi":3.05},
{"p":6,"c":"J","y":-3.65,"lo":3.95,"hi":4.05},{"p":6,"c":"J","y":-3.45,"lo":3.68,"hi":4.32},{"p":6,"c":"J","y":-3.2,"lo":3.62,"hi":4.38},{"p":6,"c":"J","y":-3.0,"lo":3.7,"hi":4.3},{"p":6,"c":"J","y":-2.85,"lo":3.95,"hi":4.05},
{"p":6,"c":"S","y":-7.4,"lo":4.95,"hi":5.05},{"p":6,"c":"S","y":-6.9,"lo":4.62,"hi":5.38},{"p":6,"c":"S","y":-6.2,"lo":4.55,"hi":5.45},{"p":6,"c":"S","y":-5.4,"lo":4.7,"hi":5.3},{"p":6,"c":"S","y":-4.3,"lo":4.88,"hi":5.12},{"p":6,"c":"S","y":-3.0,"lo":4.94,"hi":5.06},{"p":6,"c":"S","y":-1.8,"lo":4.97,"hi":5.03},
{"p":7,"c":"B","y":-11.2,"lo":0.95,"hi":1.05},{"p":7,"c":"B","y":-10.2,"lo":0.7,"hi":1.3},{"p":7,"c":"B","y":-9.0,"lo":0.6,"hi":1.4},{"p":7,"c":"B","y":-8.0,"lo":0.62,"hi":1.38},{"p":7,"c":"B","y":-7.0,"lo":0.8,"hi":1.2},{"p":7,"c":"B","y":-5.8,"lo":0.92,"hi":1.08},{"p":7,"c":"B","y":-4.4,"lo":0.96,"hi":1.04},
{"p":7,"c":"G","y":-9.3,"lo":1.95,"hi":2.05},{"p":7,"c":"G","y":-8.4,"lo":1.8,"hi":2.2},{"p":7,"c":"G","y":-7.3,"lo":1.58,"hi":2.42},{"p":7,"c":"G","y":-6.3,"lo":1.65,"hi":2.35},{"p":7,"c":"G","y":-5.3,"lo":1.88,"hi":2.12},{"p":7,"c":"G","y":-4.3,"lo":1.96,"hi":2.04},
{"p":7,"c":"I","y":-8.3,"lo":2.95,"hi":3.05},{"p":7,"c":"I","y":-7.6,"lo":2.65,"hi":3.35},{"p":7,"c":"I","y":-6.7,"lo":2.58,"hi":3.42},{"p":7,"c":"I","y":-5.8,"lo":2.7,"hi":3.3},{"p":7,"c":"I","y":-5.0,"lo":2.9,"hi":3.1},{"p":7,"c":"I","y":-4.5,"lo":2.96,"hi":3.04},
{"p":7,"c":"J","y":-4.05,"lo":3.95,"hi":4.05},{"p":7,"c":"J","y":-3.7,"lo":3.7,"hi":4.3},{"p":7,"c":"J","y":-3.4,"lo":3.62,"hi":4.38},{"p":7,"c":"J","y":-3.0,"lo":3.7,"hi":4.3},{"p":7,"c":"J","y":-2.75,"lo":3.95,"hi":4.05},
{"p":7,"c":"S","y":-8.1,"lo":4.95,"hi":5.05},{"p":7,"c":"S","y":-7.0,"lo":4.8,"hi":5.2},{"p":7,"c":"S","y":-5.5,"lo":4.6,"hi":5.4},{"p":7,"c":"S","y":-4.2,"lo":4.55,"hi":5.45},{"p":7,"c":"S","y":-3.0,"lo":4.65,"hi":5.35},{"p":7,"c":"S","y":-1.5,"lo":4.75,"hi":5.25},{"p":7,"c":"S","y":0.5,"lo":4.85,"hi":5.15},{"p":7,"c":"S","y":2.5,"lo":4.92,"hi":5.08},{"p":7,"c":"S","y":4.8,"lo":4.97,"hi":5.03},
{"p":8,"c":"B","y":-8.0,"lo":0.95,"hi":1.05},{"p":8,"c":"B","y":-7.3,"lo":0.75,"hi":1.25},{"p":8,"c":"B","y":-6.3,"lo":0.58,"hi":1.42},{"p":8,"c":"B","y":-5.3,"lo":0.6,"hi":1.4},{"p":8,"c":"B","y":-4.3,"lo":0.8,"hi":1.2},{"p":8,"c":"B","y":-3.5,"lo":0.95,"hi":1.05},{"p":8,"c":"B","y":-2.0,"lo":0.98,"hi":1.02},{"p":8,"c":"B","y":-0.3,"lo":0.98,"hi":1.02},
{"p":8,"c":"G","y":-6.7,"lo":1.95,"hi":2.05},{"p":8,"c":"G","y":-6.0,"lo":1.7,"hi":2.3},{"p":8,"c":"G","y":-5.1,"lo":1.58,"hi":2.42},{"p":8,"c":"G","y":-4.3,"lo":1.7,"hi":2.3},{"p":8,"c":"G","y":-3.8,"lo":1.95,"hi":2.05},
{"p":8,"c":"I","y":-7.0,"lo":2.95,"hi":3.05},{"p":8,"c":"I","y":-6.2,"lo":2.75,"hi":3.25},{"p":8,"c":"I","y":-5.3,"lo":2.62,"hi":3.38},{"p":8,"c":"I","y":-4.5,"lo":2.58,"hi":3.42},{"p":8,"c":"I","y":-3.9,"lo":2.75,"hi":3.25},{"p":8,"c":"I","y":-3.6,"lo":2.95,"hi":3.05},
{"p":8,"c":"J","y":-3.85,"lo":3.95,"hi":4.05},{"p":8,"c":"J","y":-3.5,"lo":3.7,"hi":4.3},{"p":8,"c":"J","y":-3.2,"lo":3.62,"hi":4.38},{"p":8,"c":"J","y":-2.9,"lo":3.7,"hi":4.3},{"p":8,"c":"J","y":-2.55,"lo":3.95,"hi":4.05},
{"p":8,"c":"S","y":-6.0,"lo":4.95,"hi":5.05},{"p":8,"c":"S","y":-5.2,"lo":4.65,"hi":5.35},{"p":8,"c":"S","y":-4.3,"lo":4.58,"hi":5.42},{"p":8,"c":"S","y":-3.0,"lo":4.68,"hi":5.32},{"p":8,"c":"S","y":-1.5,"lo":4.75,"hi":5.25},{"p":8,"c":"S","y":0,"lo":4.85,"hi":5.15},{"p":8,"c":"S","y":1.8,"lo":4.92,"hi":5.08},{"p":8,"c":"S","y":3.6,"lo":4.97,"hi":5.03}
],
"vsum":[
{"p":1,"c":"B","i":1,"m":-11.5,"a":-12.9,"b":-7.0},{"p":1,"c":"G","i":2,"m":-8.5,"a":-9.7,"b":-5.8},{"p":1,"c":"I","i":3,"m":-8.2,"a":-9.7,"b":-5.5},{"p":1,"c":"J","i":4,"m":-0.8,"a":-1.25,"b":-0.35},{"p":1,"c":"S","i":5,"m":-9.0,"a":-10.3,"b":-4.8},
{"p":2,"c":"B","i":1,"m":-8.7,"a":-10.9,"b":-6.3},{"p":2,"c":"G","i":2,"m":-6.8,"a":-8.5,"b":-4.6},{"p":2,"c":"I","i":3,"m":-6.3,"a":-7.5,"b":-4.5},{"p":2,"c":"J","i":4,"m":-0.9,"a":-1.25,"b":-0.55},{"p":2,"c":"S","i":5,"m":-6.6,"a":-8.7,"b":-1.9},
{"p":3,"c":"B","i":1,"m":-8.7,"a":-11.0,"b":-2.8},{"p":3,"c":"G","i":2,"m":-5.4,"a":-7.5,"b":-3.4},{"p":3,"c":"I","i":3,"m":-4.8,"a":-6.7,"b":-3.4},{"p":3,"c":"J","i":4,"m":-0.75,"a":-1.05,"b":-0.45},{"p":3,"c":"S","i":5,"m":-4.5,"a":-8.7,"b":3.6},
{"p":4,"c":"B","i":1,"m":-6.0,"a":-8.5,"b":-2.4},{"p":4,"c":"G","i":2,"m":-4.6,"a":-5.7,"b":-2.7},{"p":4,"c":"I","i":3,"m":-3.8,"a":-5.2,"b":-2.8},{"p":4,"c":"J","i":4,"m":-0.8,"a":-1.05,"b":-0.55},{"p":4,"c":"S","i":5,"m":-3.8,"a":-5.7,"b":4.3},
{"p":5,"c":"B","i":1,"m":-11.0,"a":-12.2,"b":-9.7},{"p":5,"c":"G","i":2,"m":-8.7,"a":-9.9,"b":-5.9},{"p":5,"c":"I","i":3,"m":-8.6,"a":-9.5,"b":-7.6},{"p":5,"c":"J","i":4,"m":-3.3,"a":-3.65,"b":-2.95},{"p":5,"c":"S","i":5,"m":-8.8,"a":-10.1,"b":-4.4},
{"p":6,"c":"B","i":1,"m":-8.3,"a":-10.5,"b":-6.7},{"p":6,"c":"G","i":2,"m":-6.8,"a":-7.9,"b":-5.8},{"p":6,"c":"I","i":3,"m":-6.7,"a":-7.7,"b":-5.7},{"p":6,"c":"J","i":4,"m":-3.2,"a":-3.65,"b":-2.85},{"p":6,"c":"S","i":5,"m":-6.3,"a":-7.4,"b":-1.8},
{"p":7,"c":"B","i":1,"m":-8.3,"a":-11.2,"b":-4.4},{"p":7,"c":"G","i":2,"m":-6.9,"a":-9.3,"b":-4.3},{"p":7,"c":"I","i":3,"m":-6.7,"a":-8.3,"b":-4.5},{"p":7,"c":"J","i":4,"m":-3.4,"a":-4.05,"b":-2.75},{"p":7,"c":"S","i":5,"m":-3.7,"a":-8.1,"b":4.8},
{"p":8,"c":"B","i":1,"m":-5.3,"a":-8.0,"b":-0.3},{"p":8,"c":"G","i":2,"m":-5.0,"a":-6.7,"b":-3.8},{"p":8,"c":"I","i":3,"m":-4.8,"a":-7.0,"b":-3.6},{"p":8,"c":"J","i":4,"m":-3.2,"a":-3.85,"b":-2.55},{"p":8,"c":"S","i":5,"m":-2.3,"a":-6.0,"b":3.6}
],
"vdot":[
{"p":1,"c":"B","x":1,"y":-7.0},{"p":1,"c":"B","x":1,"y":-8.3},{"p":1,"c":"B","x":1,"y":-9.0},{"p":1,"c":"G","x":2,"y":-6.0},{"p":1,"c":"G","x":2,"y":-6.6},{"p":1,"c":"I","x":3,"y":-5.6},{"p":1,"c":"I","x":3,"y":-6.8},{"p":1,"c":"S","x":5,"y":-4.9},{"p":1,"c":"S","x":5,"y":-7.0},
{"p":2,"c":"B","x":1,"y":-6.5},{"p":2,"c":"G","x":2,"y":-4.8},{"p":2,"c":"I","x":3,"y":-4.7},{"p":2,"c":"S","x":5,"y":-2.0},{"p":2,"c":"S","x":5,"y":-3.6},{"p":2,"c":"S","x":5,"y":-5.0},
{"p":3,"c":"B","x":1,"y":-3.0},{"p":3,"c":"B","x":1,"y":-4.2},{"p":3,"c":"B","x":1,"y":-5.5},{"p":3,"c":"B","x":1,"y":-6.5},{"p":3,"c":"G","x":2,"y":-3.6},{"p":3,"c":"I","x":3,"y":-3.6},{"p":3,"c":"S","x":5,"y":3.4},{"p":3,"c":"S","x":5,"y":1.8},{"p":3,"c":"S","x":5,"y":0.2},{"p":3,"c":"S","x":5,"y":-2.0},{"p":3,"c":"S","x":5,"y":-8.4},
{"p":4,"c":"B","x":1,"y":-2.6},{"p":4,"c":"B","x":1,"y":-3.8},{"p":4,"c":"G","x":2,"y":-2.9},{"p":4,"c":"S","x":5,"y":4.1},{"p":4,"c":"S","x":5,"y":2.5},{"p":4,"c":"S","x":5,"y":1.0},{"p":4,"c":"S","x":5,"y":-5.5},
{"p":5,"c":"G","x":2,"y":-6.1},{"p":5,"c":"G","x":2,"y":-7.0},{"p":5,"c":"S","x":5,"y":-4.6},{"p":5,"c":"S","x":5,"y":-6.0},
{"p":6,"c":"B","x":1,"y":-7.0},{"p":6,"c":"S","x":5,"y":-2.0},{"p":6,"c":"S","x":5,"y":-3.6},
{"p":7,"c":"B","x":1,"y":-4.6},{"p":7,"c":"G","x":2,"y":-4.5},{"p":7,"c":"I","x":3,"y":-4.6},{"p":7,"c":"S","x":5,"y":4.6},{"p":7,"c":"S","x":5,"y":2.8},{"p":7,"c":"S","x":5,"y":1.0},{"p":7,"c":"S","x":5,"y":-7.8},
{"p":8,"c":"B","x":1,"y":-0.4},{"p":8,"c":"S","x":5,"y":3.4},{"p":8,"c":"S","x":5,"y":2.0},{"p":8,"c":"S","x":5,"y":0.2}
]
},
"columns":5,
"spacing":{"row":38.5,"column":34},
"bounds":"flush",
"concat":[
  {"width":99,"height":85,"title":{"text":"B/RGP","dy":12},"view":{"stroke":"#000","strokeWidth":0.8},"layer":[
   {"data":{"name":"ptsA"},"mark":{"type":"point","size":36,"strokeWidth":1,"opacity":1},"encoding":{"x":{"field":"x","type":"quantitative","scale":{"domain":[-10,10],"nice":false},"axis":{"values":[-10,0,10]},"title":null},"y":{"field":"y","type":"quantitative","scale":{"domain":[-2,2],"nice":false},"axis":{"values":[-2,-1,0,1,2],"format":"d","titleAngle":0,"titleFontSize":14,"titleAlign":"left","titleBaseline":"middle","titleX":-32,"titleY":-8},"title":"(a)"},"color":{"field":"s","type":"nominal","scale":{"domain":["r","b"],"range":["#e5262b","#2e4fa6"]},"legend":null}}},
   {"data":{"name":"fitA"},"transform":[{"filter":"datum.m=='B'"}],"mark":{"type":"area","fill":"#dedede","stroke":"#000","strokeWidth":0.7},"encoding":{"x":{"field":"x","type":"quantitative","scale":{"domain":[-10,10],"nice":false},"title":null},"y":{"field":"lo","type":"quantitative","scale":{"domain":[-2,2],"nice":false},"title":"(a)"},"y2":{"field":"hi"},"detail":{"field":"s"}}},
   {"data":{"name":"fitA"},"transform":[{"filter":"datum.m=='B'"}],"mark":{"type":"line","color":"#000","strokeWidth":2.5},"encoding":{"x":{"field":"x","type":"quantitative","scale":{"domain":[-10,10],"nice":false},"title":null},"y":{"field":"y","type":"quantitative","scale":{"domain":[-2,2],"nice":false},"title":"(a)"},"detail":{"field":"s"}}}
  ]},
  {"width":99,"height":85,"title":"BGP","view":{"stroke":"#000","strokeWidth":0.8},"layer":[
   {"data":{"name":"ptsA"},"mark":{"type":"point","size":36,"strokeWidth":1,"opacity":1},"encoding":{"x":{"field":"x","type":"quantitative","scale":{"domain":[-10,10],"nice":false},"axis":{"values":[-10,0,10]},"title":null},"y":{"field":"y","type":"quantitative","scale":{"domain":[-2,2],"nice":false},"axis":{"values":[-2,-1,0,1,2],"format":"d"},"title":null},"color":{"field":"s","type":"nominal","scale":{"domain":["r","b"],"range":["#e5262b","#2e4fa6"]},"legend":null}}},
   {"data":{"name":"fitA"},"transform":[{"filter":"datum.m=='G'"}],"mark":{"type":"area","fill":"#dedede","stroke":"#000","strokeWidth":0.7},"encoding":{"x":{"field":"x","type":"quantitative","scale":{"domain":[-10,10],"nice":false},"title":null},"y":{"field":"lo","type":"quantitative","scale":{"domain":[-2,2],"nice":false},"title":null},"y2":{"field":"hi"},"detail":{"field":"s"}}},
   {"data":{"name":"fitA"},"transform":[{"filter":"datum.m=='G'"}],"mark":{"type":"line","color":"#000","strokeWidth":2.5},"encoding":{"x":{"field":"x","type":"quantitative","scale":{"domain":[-10,10],"nice":false},"title":null},"y":{"field":"y","type":"quantitative","scale":{"domain":[-2,2],"nice":false},"title":null},"detail":{"field":"s"}}}
  ]},
  {"width":99,"height":85,"title":"IGP","view":{"stroke":"#000","strokeWidth":0.8},"layer":[
   {"data":{"name":"ptsA"},"mark":{"type":"point","size":36,"strokeWidth":1,"opacity":1},"encoding":{"x":{"field":"x","type":"quantitative","scale":{"domain":[-10,10],"nice":false},"axis":{"values":[-10,0,10]},"title":null},"y":{"field":"y","type":"quantitative","scale":{"domain":[-2,2],"nice":false},"axis":{"values":[-2,-1,0,1,2],"format":"d"},"title":null},"color":{"field":"s","type":"nominal","scale":{"domain":["r","b"],"range":["#e5262b","#2e4fa6"]},"legend":null}}},
   {"data":{"name":"fitA"},"transform":[{"filter":"datum.m=='I'"}],"mark":{"type":"area","fill":"#dedede","stroke":"#000","strokeWidth":0.7},"encoding":{"x":{"field":"x","type":"quantitative","scale":{"domain":[-10,10],"nice":false},"title":null},"y":{"field":"lo","type":"quantitative","scale":{"domain":[-2,2],"nice":false},"title":null},"y2":{"field":"hi"},"detail":{"field":"s"}}},
   {"data":{"name":"fitA"},"transform":[{"filter":"datum.m=='I'"}],"mark":{"type":"line","color":"#000","strokeWidth":2.5},"encoding":{"x":{"field":"x","type":"quantitative","scale":{"domain":[-10,10],"nice":false},"title":null},"y":{"field":"y","type":"quantitative","scale":{"domain":[-2,2],"nice":false},"title":null},"detail":{"field":"s"}}}
  ]},
  {"width":99,"height":85,"title":"JGP","view":{"stroke":"#000","strokeWidth":0.8},"layer":[
   {"data":{"name":"boxA"},"mark":{"type":"rect","fill":"#d9d9d9","stroke":"#000","strokeWidth":0.8},"encoding":{"x":{"field":"x","type":"quantitative","scale":{"domain":[-10,10],"nice":false},"axis":{"values":[-10,0,10]},"title":null},"x2":{"field":"x2"},"y":{"field":"y","type":"quantitative","scale":{"domain":[-2,2],"nice":false},"axis":{"values":[-2,-1,0,1,2],"format":"d"},"title":null},"y2":{"field":"y2"}}},
   {"data":{"name":"ptsA"},"mark":{"type":"point","size":36,"strokeWidth":1,"opacity":1},"encoding":{"x":{"field":"x","type":"quantitative","scale":{"domain":[-10,10],"nice":false},"title":null},"y":{"field":"y","type":"quantitative","scale":{"domain":[-2,2],"nice":false},"title":null},"color":{"field":"s","type":"nominal","scale":{"domain":["r","b"],"range":["#e5262b","#2e4fa6"]},"legend":null}}},
   {"data":{"name":"fitA"},"transform":[{"filter":"datum.m=='J'"}],"mark":{"type":"line","color":"#000","strokeWidth":2.5},"encoding":{"x":{"field":"x","type":"quantitative","scale":{"domain":[-10,10],"nice":false},"title":null},"y":{"field":"y","type":"quantitative","scale":{"domain":[-2,2],"nice":false},"title":null},"detail":{"field":"s"}}}
  ]},
  {"width":99,"height":85,"title":"Splines","view":{"stroke":"#000","strokeWidth":0.8},"layer":[
   {"data":{"name":"ptsA"},"mark":{"type":"point","size":36,"strokeWidth":1,"opacity":1},"encoding":{"x":{"field":"x","type":"quantitative","scale":{"domain":[-10,10],"nice":false},"axis":{"values":[-10,0,10]},"title":null},"y":{"field":"y","type":"quantitative","scale":{"domain":[-2,2],"nice":false},"axis":{"values":[-2,-1,0,1,2],"format":"d"},"title":null},"color":{"field":"s","type":"nominal","scale":{"domain":["r","b"],"range":["#e5262b","#2e4fa6"]},"legend":null}}},
   {"data":{"name":"fitA"},"transform":[{"filter":"datum.m=='S'"}],"mark":{"type":"line","color":"#000","strokeWidth":2.5},"encoding":{"x":{"field":"x","type":"quantitative","scale":{"domain":[-10,10],"nice":false},"title":null},"y":{"field":"y","type":"quantitative","scale":{"domain":[-2,2],"nice":false},"title":null},"detail":{"field":"s"}}}
  ]},
  {"width":99,"height":85,"title":{"text":"N = 300, σ = 0.1","dy":12},"layer":[
   {"data":{"name":"vio"},"transform":[{"filter":"datum.p==1"}],"mark":{"type":"area","orient":"horizontal","interpolate":"monotone","fillOpacity":0.75,"stroke":"#666","strokeWidth":0.4},"encoding":{"y":{"field":"y","type":"quantitative","scale":{"domain":[-14,5],"nice":false,"zero":false},"axis":{"values":[-10,-5,0,5]},"title":"log <SSE>"},"x":{"field":"lo","type":"quantitative","scale":{"domain":[0.15,5.55],"nice":false,"zero":false},"axis":{"values":[1,2,3,4,5],"labelExpr":"['','B/RGP','BGP','IGP','JGP','Spline'][datum.value]","labelAngle":-30,"labelAlign":"center","labelBaseline":"middle","labelPadding":12,"labelOverlap":false,"titleAngle":0,"titleFontSize":14,"titleAlign":"left","titleBaseline":"middle","titleX":-32,"titleY":-93},"title":"(b)"},"x2":{"field":"hi"},"color":{"field":"c","type":"nominal","scale":{"domain":["B","G","I","J","S"],"range":["#3b6db5","#6a9f4b","#d9623b","#4fb6e8","#eab330"]},"legend":null}}},
   {"data":{"name":"vsum"},"transform":[{"filter":"datum.p==1"}],"mark":{"type":"rule","color":"#777","strokeWidth":0.8},"encoding":{"x":{"field":"i","type":"quantitative","scale":{"domain":[0.15,5.55],"nice":false,"zero":false},"title":"(b)"},"y":{"field":"a","type":"quantitative","scale":{"domain":[-14,5],"nice":false,"zero":false},"title":"log <SSE>"},"y2":{"field":"b"}}},
   {"data":{"name":"vdot"},"transform":[{"filter":"datum.p==1"}],"mark":{"type":"circle","size":20,"opacity":0.45},"encoding":{"x":{"field":"x","type":"quantitative","scale":{"domain":[0.15,5.55],"nice":false,"zero":false},"title":"(b)"},"y":{"field":"y","type":"quantitative","scale":{"domain":[-14,5],"nice":false,"zero":false},"title":"log <SSE>"},"color":{"field":"c","type":"nominal","scale":{"domain":["B","G","I","J","S"],"range":["#3b6db5","#6a9f4b","#d9623b","#4fb6e8","#eab330"]},"legend":null}}},
   {"data":{"name":"vsum"},"transform":[{"filter":"datum.p==1"}],"mark":{"type":"circle","size":30,"fill":"#fff","stroke":"#666","strokeWidth":1,"opacity":1},"encoding":{"x":{"field":"i","type":"quantitative","scale":{"domain":[0.15,5.55],"nice":false,"zero":false},"title":"(b)"},"y":{"field":"m","type":"quantitative","scale":{"domain":[-14,5],"nice":false,"zero":false},"title":"log <SSE>"}}}
  ]},
  {"width":99,"height":85,"title":"N = 300, σ = 0.3","layer":[
   {"data":{"name":"vio"},"transform":[{"filter":"datum.p==2"}],"mark":{"type":"area","orient":"horizontal","interpolate":"monotone","fillOpacity":0.75,"stroke":"#666","strokeWidth":0.4},"encoding":{"y":{"field":"y","type":"quantitative","scale":{"domain":[-14,5],"nice":false,"zero":false},"axis":{"values":[-10,-5,0,5]},"title":null},"x":{"field":"lo","type":"quantitative","scale":{"domain":[0.15,5.55],"nice":false,"zero":false},"axis":{"values":[1,2,3,4,5],"labelExpr":"['','B/RGP','BGP','IGP','JGP','Spline'][datum.value]","labelAngle":-30,"labelAlign":"center","labelBaseline":"middle","labelPadding":12,"labelOverlap":false},"title":null},"x2":{"field":"hi"},"color":{"field":"c","type":"nominal","scale":{"domain":["B","G","I","J","S"],"range":["#3b6db5","#6a9f4b","#d9623b","#4fb6e8","#eab330"]},"legend":null}}},
   {"data":{"name":"vsum"},"transform":[{"filter":"datum.p==2"}],"mark":{"type":"rule","color":"#777","strokeWidth":0.8},"encoding":{"x":{"field":"i","type":"quantitative","scale":{"domain":[0.15,5.55],"nice":false,"zero":false},"title":null},"y":{"field":"a","type":"quantitative","scale":{"domain":[-14,5],"nice":false,"zero":false},"title":null},"y2":{"field":"b"}}},
   {"data":{"name":"vdot"},"transform":[{"filter":"datum.p==2"}],"mark":{"type":"circle","size":20,"opacity":0.45},"encoding":{"x":{"field":"x","type":"quantitative","scale":{"domain":[0.15,5.55],"nice":false,"zero":false},"title":null},"y":{"field":"y","type":"quantitative","scale":{"domain":[-14,5],"nice":false,"zero":false},"title":null},"color":{"field":"c","type":"nominal","scale":{"domain":["B","G","I","J","S"],"range":["#3b6db5","#6a9f4b","#d9623b","#4fb6e8","#eab330"]},"legend":null}}},
   {"data":{"name":"vsum"},"transform":[{"filter":"datum.p==2"}],"mark":{"type":"circle","size":30,"fill":"#fff","stroke":"#666","strokeWidth":1,"opacity":1},"encoding":{"x":{"field":"i","type":"quantitative","scale":{"domain":[0.15,5.55],"nice":false,"zero":false},"title":null},"y":{"field":"m","type":"quantitative","scale":{"domain":[-14,5],"nice":false,"zero":false},"title":null}}}
  ]},
  {"width":99,"height":85,"title":"N = 50, σ = 0.1","layer":[
   {"data":{"name":"vio"},"transform":[{"filter":"datum.p==3"}],"mark":{"type":"area","orient":"horizontal","interpolate":"monotone","fillOpacity":0.75,"stroke":"#666","strokeWidth":0.4},"encoding":{"y":{"field":"y","type":"quantitative","scale":{"domain":[-14,5],"nice":false,"zero":false},"axis":{"values":[-10,-5,0,5]},"title":null},"x":{"field":"lo","type":"quantitative","scale":{"domain":[0.15,5.55],"nice":false,"zero":false},"axis":{"values":[1,2,3,4,5],"labelExpr":"['','B/RGP','BGP','IGP','JGP','Spline'][datum.value]","labelAngle":-30,"labelAlign":"center","labelBaseline":"middle","labelPadding":12,"labelOverlap":false},"title":null},"x2":{"field":"hi"},"color":{"field":"c","type":"nominal","scale":{"domain":["B","G","I","J","S"],"range":["#3b6db5","#6a9f4b","#d9623b","#4fb6e8","#eab330"]},"legend":null}}},
   {"data":{"name":"vsum"},"transform":[{"filter":"datum.p==3"}],"mark":{"type":"rule","color":"#777","strokeWidth":0.8},"encoding":{"x":{"field":"i","type":"quantitative","scale":{"domain":[0.15,5.55],"nice":false,"zero":false},"title":null},"y":{"field":"a","type":"quantitative","scale":{"domain":[-14,5],"nice":false,"zero":false},"title":null},"y2":{"field":"b"}}},
   {"data":{"name":"vdot"},"transform":[{"filter":"datum.p==3"}],"mark":{"type":"circle","size":20,"opacity":0.45},"encoding":{"x":{"field":"x","type":"quantitative","scale":{"domain":[0.15,5.55],"nice":false,"zero":false},"title":null},"y":{"field":"y","type":"quantitative","scale":{"domain":[-14,5],"nice":false,"zero":false},"title":null},"color":{"field":"c","type":"nominal","scale":{"domain":["B","G","I","J","S"],"range":["#3b6db5","#6a9f4b","#d9623b","#4fb6e8","#eab330"]},"legend":null}}},
   {"data":{"name":"vsum"},"transform":[{"filter":"datum.p==3"}],"mark":{"type":"circle","size":30,"fill":"#fff","stroke":"#666","strokeWidth":1,"opacity":1},"encoding":{"x":{"field":"i","type":"quantitative","scale":{"domain":[0.15,5.55],"nice":false,"zero":false},"title":null},"y":{"field":"m","type":"quantitative","scale":{"domain":[-14,5],"nice":false,"zero":false},"title":null}}}
  ]},
  {"width":99,"height":85,"title":"N = 50, σ = 0.3","layer":[
   {"data":{"name":"vio"},"transform":[{"filter":"datum.p==4"}],"mark":{"type":"area","orient":"horizontal","interpolate":"monotone","fillOpacity":0.75,"stroke":"#666","strokeWidth":0.4},"encoding":{"y":{"field":"y","type":"quantitative","scale":{"domain":[-14,5],"nice":false,"zero":false},"axis":{"values":[-10,-5,0,5]},"title":null},"x":{"field":"lo","type":"quantitative","scale":{"domain":[0.15,5.55],"nice":false,"zero":false},"axis":{"values":[1,2,3,4,5],"labelExpr":"['','B/RGP','BGP','IGP','JGP','Spline'][datum.value]","labelAngle":-30,"labelAlign":"center","labelBaseline":"middle","labelPadding":12,"labelOverlap":false},"title":null},"x2":{"field":"hi"},"color":{"field":"c","type":"nominal","scale":{"domain":["B","G","I","J","S"],"range":["#3b6db5","#6a9f4b","#d9623b","#4fb6e8","#eab330"]},"legend":null}}},
   {"data":{"name":"vsum"},"transform":[{"filter":"datum.p==4"}],"mark":{"type":"rule","color":"#777","strokeWidth":0.8},"encoding":{"x":{"field":"i","type":"quantitative","scale":{"domain":[0.15,5.55],"nice":false,"zero":false},"title":null},"y":{"field":"a","type":"quantitative","scale":{"domain":[-14,5],"nice":false,"zero":false},"title":null},"y2":{"field":"b"}}},
   {"data":{"name":"vdot"},"transform":[{"filter":"datum.p==4"}],"mark":{"type":"circle","size":20,"opacity":0.45},"encoding":{"x":{"field":"x","type":"quantitative","scale":{"domain":[0.15,5.55],"nice":false,"zero":false},"title":null},"y":{"field":"y","type":"quantitative","scale":{"domain":[-14,5],"nice":false,"zero":false},"title":null},"color":{"field":"c","type":"nominal","scale":{"domain":["B","G","I","J","S"],"range":["#3b6db5","#6a9f4b","#d9623b","#4fb6e8","#eab330"]},"legend":null}}},
   {"data":{"name":"vsum"},"transform":[{"filter":"datum.p==4"}],"mark":{"type":"circle","size":30,"fill":"#fff","stroke":"#666","strokeWidth":1,"opacity":1},"encoding":{"x":{"field":"i","type":"quantitative","scale":{"domain":[0.15,5.55],"nice":false,"zero":false},"title":null},"y":{"field":"m","type":"quantitative","scale":{"domain":[-14,5],"nice":false,"zero":false},"title":null}}}
  ]},
  {"width":99,"height":85,"data":{"values":[]},"mark":"point"},
  {"width":99,"height":85,"title":{"text":"B/RGP","dy":12},"view":{"stroke":"#000","strokeWidth":0.8},"layer":[
   {"data":{"name":"ptsC"},"mark":{"type":"point","size":36,"strokeWidth":1,"opacity":1},"encoding":{"x":{"field":"x","type":"quantitative","scale":{"domain":[-10,10],"nice":false},"axis":{"values":[-10,0,10]},"title":null},"y":{"field":"y","type":"quantitative","scale":{"domain":[-2,2],"nice":false},"axis":{"values":[-2,-1,0,1,2],"format":"d","titleAngle":0,"titleFontSize":14,"titleAlign":"left","titleBaseline":"middle","titleX":-32,"titleY":-8},"title":"(c)"},"color":{"field":"s","type":"nominal","scale":{"domain":["r","b"],"range":["#e5262b","#2e4fa6"]},"legend":null}}},
   {"data":{"name":"fitC"},"transform":[{"filter":"datum.m=='B'"}],"mark":{"type":"area","fill":"#dedede","stroke":"#000","strokeWidth":0.7},"encoding":{"x":{"field":"x","type":"quantitative","scale":{"domain":[-10,10],"nice":false},"title":null},"y":{"field":"lo","type":"quantitative","scale":{"domain":[-2,2],"nice":false},"title":"(c)"},"y2":{"field":"hi"},"detail":{"field":"s"}}},
   {"data":{"name":"fitC"},"transform":[{"filter":"datum.m=='B'"}],"mark":{"type":"line","color":"#000","strokeWidth":2.5},"encoding":{"x":{"field":"x","type":"quantitative","scale":{"domain":[-10,10],"nice":false},"title":null},"y":{"field":"y","type":"quantitative","scale":{"domain":[-2,2],"nice":false},"title":"(c)"},"detail":{"field":"s"}}}
  ]},
  {"width":99,"height":85,"title":"BGP","view":{"stroke":"#000","strokeWidth":0.8},"layer":[
   {"data":{"name":"ptsC"},"mark":{"type":"point","size":36,"strokeWidth":1,"opacity":1},"encoding":{"x":{"field":"x","type":"quantitative","scale":{"domain":[-10,10],"nice":false},"axis":{"values":[-10,0,10]},"title":null},"y":{"field":"y","type":"quantitative","scale":{"domain":[-2,2],"nice":false},"axis":{"values":[-2,-1,0,1,2],"format":"d"},"title":null},"color":{"field":"s","type":"nominal","scale":{"domain":["r","b"],"range":["#e5262b","#2e4fa6"]},"legend":null}}},
   {"data":{"name":"fitC"},"transform":[{"filter":"datum.m=='G'"}],"mark":{"type":"area","fill":"#dedede","stroke":"#000","strokeWidth":0.7},"encoding":{"x":{"field":"x","type":"quantitative","scale":{"domain":[-10,10],"nice":false},"title":null},"y":{"field":"lo","type":"quantitative","scale":{"domain":[-2,2],"nice":false},"title":null},"y2":{"field":"hi"},"detail":{"field":"s"}}},
   {"data":{"name":"fitC"},"transform":[{"filter":"datum.m=='G'"}],"mark":{"type":"line","color":"#000","strokeWidth":2.5},"encoding":{"x":{"field":"x","type":"quantitative","scale":{"domain":[-10,10],"nice":false},"title":null},"y":{"field":"y","type":"quantitative","scale":{"domain":[-2,2],"nice":false},"title":null},"detail":{"field":"s"}}}
  ]},
  {"width":99,"height":85,"title":"IGP","view":{"stroke":"#000","strokeWidth":0.8},"layer":[
   {"data":{"name":"ptsC"},"mark":{"type":"point","size":36,"strokeWidth":1,"opacity":1},"encoding":{"x":{"field":"x","type":"quantitative","scale":{"domain":[-10,10],"nice":false},"axis":{"values":[-10,0,10]},"title":null},"y":{"field":"y","type":"quantitative","scale":{"domain":[-2,2],"nice":false},"axis":{"values":[-2,-1,0,1,2],"format":"d"},"title":null},"color":{"field":"s","type":"nominal","scale":{"domain":["r","b"],"range":["#e5262b","#2e4fa6"]},"legend":null}}},
   {"data":{"name":"fitC"},"transform":[{"filter":"datum.m=='I'"}],"mark":{"type":"area","fill":"#dedede","stroke":"#000","strokeWidth":0.7},"encoding":{"x":{"field":"x","type":"quantitative","scale":{"domain":[-10,10],"nice":false},"title":null},"y":{"field":"lo","type":"quantitative","scale":{"domain":[-2,2],"nice":false},"title":null},"y2":{"field":"hi"},"detail":{"field":"s"}}},
   {"data":{"name":"fitC"},"transform":[{"filter":"datum.m=='I'"}],"mark":{"type":"line","color":"#000","strokeWidth":2.5},"encoding":{"x":{"field":"x","type":"quantitative","scale":{"domain":[-10,10],"nice":false},"title":null},"y":{"field":"y","type":"quantitative","scale":{"domain":[-2,2],"nice":false},"title":null},"detail":{"field":"s"}}}
  ]},
  {"width":99,"height":85,"title":"JGP","view":{"stroke":"#000","strokeWidth":0.8},"layer":[
   {"data":{"name":"boxC"},"mark":{"type":"rect","fill":"#d9d9d9","stroke":"#000","strokeWidth":0.8},"encoding":{"x":{"field":"x","type":"quantitative","scale":{"domain":[-10,10],"nice":false},"axis":{"values":[-10,0,10]},"title":null},"x2":{"field":"x2"},"y":{"field":"y","type":"quantitative","scale":{"domain":[-2,2],"nice":false},"axis":{"values":[-2,-1,0,1,2],"format":"d"},"title":null},"y2":{"field":"y2"}}},
   {"data":{"name":"ptsC"},"mark":{"type":"point","size":36,"strokeWidth":1,"opacity":1},"encoding":{"x":{"field":"x","type":"quantitative","scale":{"domain":[-10,10],"nice":false},"title":null},"y":{"field":"y","type":"quantitative","scale":{"domain":[-2,2],"nice":false},"title":null},"color":{"field":"s","type":"nominal","scale":{"domain":["r","b"],"range":["#e5262b","#2e4fa6"]},"legend":null}}},
   {"data":{"name":"fitC"},"transform":[{"filter":"datum.m=='J'"}],"mark":{"type":"line","color":"#000","strokeWidth":2.5},"encoding":{"x":{"field":"x","type":"quantitative","scale":{"domain":[-10,10],"nice":false},"title":null},"y":{"field":"y","type":"quantitative","scale":{"domain":[-2,2],"nice":false},"title":null},"detail":{"field":"s"}}}
  ]},
  {"width":99,"height":85,"title":"Splines","view":{"stroke":"#000","strokeWidth":0.8},"layer":[
   {"data":{"name":"ptsC"},"mark":{"type":"point","size":36,"strokeWidth":1,"opacity":1},"encoding":{"x":{"field":"x","type":"quantitative","scale":{"domain":[-10,10],"nice":false},"axis":{"values":[-10,0,10]},"title":null},"y":{"field":"y","type":"quantitative","scale":{"domain":[-2,2],"nice":false},"axis":{"values":[-2,-1,0,1,2],"format":"d"},"title":null},"color":{"field":"s","type":"nominal","scale":{"domain":["r","b"],"range":["#e5262b","#2e4fa6"]},"legend":null}}},
   {"data":{"name":"fitC"},"transform":[{"filter":"datum.m=='S'"}],"mark":{"type":"line","color":"#000","strokeWidth":2.5},"encoding":{"x":{"field":"x","type":"quantitative","scale":{"domain":[-10,10],"nice":false},"title":null},"y":{"field":"y","type":"quantitative","scale":{"domain":[-2,2],"nice":false},"title":null},"detail":{"field":"s"}}}
  ]},
  {"width":99,"height":85,"title":{"text":"N = 300, σ = 0.1","dy":12},"layer":[
   {"data":{"name":"vio"},"transform":[{"filter":"datum.p==5"}],"mark":{"type":"area","orient":"horizontal","interpolate":"monotone","fillOpacity":0.75,"stroke":"#666","strokeWidth":0.4},"encoding":{"y":{"field":"y","type":"quantitative","scale":{"domain":[-14,5],"nice":false,"zero":false},"axis":{"values":[-10,-5,0,5]},"title":"log <SSE>"},"x":{"field":"lo","type":"quantitative","scale":{"domain":[0.15,5.55],"nice":false,"zero":false},"axis":{"values":[1,2,3,4,5],"labelExpr":"['','B/RGP','BGP','IGP','JGP','Spline'][datum.value]","labelAngle":-30,"labelAlign":"center","labelBaseline":"middle","labelPadding":12,"labelOverlap":false,"titleAngle":0,"titleFontSize":14,"titleAlign":"left","titleBaseline":"middle","titleX":-32,"titleY":-93},"title":"(d)"},"x2":{"field":"hi"},"color":{"field":"c","type":"nominal","scale":{"domain":["B","G","I","J","S"],"range":["#3b6db5","#6a9f4b","#d9623b","#4fb6e8","#eab330"]},"legend":null}}},
   {"data":{"name":"vsum"},"transform":[{"filter":"datum.p==5"}],"mark":{"type":"rule","color":"#777","strokeWidth":0.8},"encoding":{"x":{"field":"i","type":"quantitative","scale":{"domain":[0.15,5.55],"nice":false,"zero":false},"title":"(d)"},"y":{"field":"a","type":"quantitative","scale":{"domain":[-14,5],"nice":false,"zero":false},"title":"log <SSE>"},"y2":{"field":"b"}}},
   {"data":{"name":"vdot"},"transform":[{"filter":"datum.p==5"}],"mark":{"type":"circle","size":20,"opacity":0.45},"encoding":{"x":{"field":"x","type":"quantitative","scale":{"domain":[0.15,5.55],"nice":false,"zero":false},"title":"(d)"},"y":{"field":"y","type":"quantitative","scale":{"domain":[-14,5],"nice":false,"zero":false},"title":"log <SSE>"},"color":{"field":"c","type":"nominal","scale":{"domain":["B","G","I","J","S"],"range":["#3b6db5","#6a9f4b","#d9623b","#4fb6e8","#eab330"]},"legend":null}}},
   {"data":{"name":"vsum"},"transform":[{"filter":"datum.p==5"}],"mark":{"type":"circle","size":30,"fill":"#fff","stroke":"#666","strokeWidth":1,"opacity":1},"encoding":{"x":{"field":"i","type":"quantitative","scale":{"domain":[0.15,5.55],"nice":false,"zero":false},"title":"(d)"},"y":{"field":"m","type":"quantitative","scale":{"domain":[-14,5],"nice":false,"zero":false},"title":"log <SSE>"}}}
  ]},
  {"width":99,"height":85,"title":"N = 300, σ = 0.3","layer":[
   {"data":{"name":"vio"},"transform":[{"filter":"datum.p==6"}],"mark":{"type":"area","orient":"horizontal","interpolate":"monotone","fillOpacity":0.75,"stroke":"#666","strokeWidth":0.4},"encoding":{"y":{"field":"y","type":"quantitative","scale":{"domain":[-14,5],"nice":false,"zero":false},"axis":{"values":[-10,-5,0,5]},"title":null},"x":{"field":"lo","type":"quantitative","scale":{"domain":[0.15,5.55],"nice":false,"zero":false},"axis":{"values":[1,2,3,4,5],"labelExpr":"['','B/RGP','BGP','IGP','JGP','Spline'][datum.value]","labelAngle":-30,"labelAlign":"center","labelBaseline":"middle","labelPadding":12,"labelOverlap":false},"title":null},"x2":{"field":"hi"},"color":{"field":"c","type":"nominal","scale":{"domain":["B","G","I","J","S"],"range":["#3b6db5","#6a9f4b","#d9623b","#4fb6e8","#eab330"]},"legend":null}}},
   {"data":{"name":"vsum"},"transform":[{"filter":"datum.p==6"}],"mark":{"type":"rule","color":"#777","strokeWidth":0.8},"encoding":{"x":{"field":"i","type":"quantitative","scale":{"domain":[0.15,5.55],"nice":false,"zero":false},"title":null},"y":{"field":"a","type":"quantitative","scale":{"domain":[-14,5],"nice":false,"zero":false},"title":null},"y2":{"field":"b"}}},
   {"data":{"name":"vdot"},"transform":[{"filter":"datum.p==6"}],"mark":{"type":"circle","size":20,"opacity":0.45},"encoding":{"x":{"field":"x","type":"quantitative","scale":{"domain":[0.15,5.55],"nice":false,"zero":false},"title":null},"y":{"field":"y","type":"quantitative","scale":{"domain":[-14,5],"nice":false,"zero":false},"title":null},"color":{"field":"c","type":"nominal","scale":{"domain":["B","G","I","J","S"],"range":["#3b6db5","#6a9f4b","#d9623b","#4fb6e8","#eab330"]},"legend":null}}},
   {"data":{"name":"vsum"},"transform":[{"filter":"datum.p==6"}],"mark":{"type":"circle","size":30,"fill":"#fff","stroke":"#666","strokeWidth":1,"opacity":1},"encoding":{"x":{"field":"i","type":"quantitative","scale":{"domain":[0.15,5.55],"nice":false,"zero":false},"title":null},"y":{"field":"m","type":"quantitative","scale":{"domain":[-14,5],"nice":false,"zero":false},"title":null}}}
  ]},
  {"width":99,"height":85,"title":"N = 50, σ = 0.1","layer":[
   {"data":{"name":"vio"},"transform":[{"filter":"datum.p==7"}],"mark":{"type":"area","orient":"horizontal","interpolate":"monotone","fillOpacity":0.75,"stroke":"#666","strokeWidth":0.4},"encoding":{"y":{"field":"y","type":"quantitative","scale":{"domain":[-14,5],"nice":false,"zero":false},"axis":{"values":[-10,-5,0,5]},"title":null},"x":{"field":"lo","type":"quantitative","scale":{"domain":[0.15,5.55],"nice":false,"zero":false},"axis":{"values":[1,2,3,4,5],"labelExpr":"['','B/RGP','BGP','IGP','JGP','Spline'][datum.value]","labelAngle":-30,"labelAlign":"center","labelBaseline":"middle","labelPadding":12,"labelOverlap":false},"title":null},"x2":{"field":"hi"},"color":{"field":"c","type":"nominal","scale":{"domain":["B","G","I","J","S"],"range":["#3b6db5","#6a9f4b","#d9623b","#4fb6e8","#eab330"]},"legend":null}}},
   {"data":{"name":"vsum"},"transform":[{"filter":"datum.p==7"}],"mark":{"type":"rule","color":"#777","strokeWidth":0.8},"encoding":{"x":{"field":"i","type":"quantitative","scale":{"domain":[0.15,5.55],"nice":false,"zero":false},"title":null},"y":{"field":"a","type":"quantitative","scale":{"domain":[-14,5],"nice":false,"zero":false},"title":null},"y2":{"field":"b"}}},
   {"data":{"name":"vdot"},"transform":[{"filter":"datum.p==7"}],"mark":{"type":"circle","size":20,"opacity":0.45},"encoding":{"x":{"field":"x","type":"quantitative","scale":{"domain":[0.15,5.55],"nice":false,"zero":false},"title":null},"y":{"field":"y","type":"quantitative","scale":{"domain":[-14,5],"nice":false,"zero":false},"title":null},"color":{"field":"c","type":"nominal","scale":{"domain":["B","G","I","J","S"],"range":["#3b6db5","#6a9f4b","#d9623b","#4fb6e8","#eab330"]},"legend":null}}},
   {"data":{"name":"vsum"},"transform":[{"filter":"datum.p==7"}],"mark":{"type":"circle","size":30,"fill":"#fff","stroke":"#666","strokeWidth":1,"opacity":1},"encoding":{"x":{"field":"i","type":"quantitative","scale":{"domain":[0.15,5.55],"nice":false,"zero":false},"title":null},"y":{"field":"m","type":"quantitative","scale":{"domain":[-14,5],"nice":false,"zero":false},"title":null}}}
  ]},
  {"width":99,"height":85,"title":"N = 50, σ = 0.3","layer":[
   {"data":{"name":"vio"},"transform":[{"filter":"datum.p==8"}],"mark":{"type":"area","orient":"horizontal","interpolate":"monotone","fillOpacity":0.75,"stroke":"#666","strokeWidth":0.4},"encoding":{"y":{"field":"y","type":"quantitative","scale":{"domain":[-14,5],"nice":false,"zero":false},"axis":{"values":[-10,-5,0,5]},"title":null},"x":{"field":"lo","type":"quantitative","scale":{"domain":[0.15,5.55],"nice":false,"zero":false},"axis":{"values":[1,2,3,4,5],"labelExpr":"['','B/RGP','BGP','IGP','JGP','Spline'][datum.value]","labelAngle":-30,"labelAlign":"center","labelBaseline":"middle","labelPadding":12,"labelOverlap":false},"title":null},"x2":{"field":"hi"},"color":{"field":"c","type":"nominal","scale":{"domain":["B","G","I","J","S"],"range":["#3b6db5","#6a9f4b","#d9623b","#4fb6e8","#eab330"]},"legend":null}}},
   {"data":{"name":"vsum"},"transform":[{"filter":"datum.p==8"}],"mark":{"type":"rule","color":"#777","strokeWidth":0.8},"encoding":{"x":{"field":"i","type":"quantitative","scale":{"domain":[0.15,5.55],"nice":false,"zero":false},"title":null},"y":{"field":"a","type":"quantitative","scale":{"domain":[-14,5],"nice":false,"zero":false},"title":null},"y2":{"field":"b"}}},
   {"data":{"name":"vdot"},"transform":[{"filter":"datum.p==8"}],"mark":{"type":"circle","size":20,"opacity":0.45},"encoding":{"x":{"field":"x","type":"quantitative","scale":{"domain":[0.15,5.55],"nice":false,"zero":false},"title":null},"y":{"field":"y","type":"quantitative","scale":{"domain":[-14,5],"nice":false,"zero":false},"title":null},"color":{"field":"c","type":"nominal","scale":{"domain":["B","G","I","J","S"],"range":["#3b6db5","#6a9f4b","#d9623b","#4fb6e8","#eab330"]},"legend":null}}},
   {"data":{"name":"vsum"},"transform":[{"filter":"datum.p==8"}],"mark":{"type":"circle","size":30,"fill":"#fff","stroke":"#666","strokeWidth":1,"opacity":1},"encoding":{"x":{"field":"i","type":"quantitative","scale":{"domain":[0.15,5.55],"nice":false,"zero":false},"title":null},"y":{"field":"m","type":"quantitative","scale":{"domain":[-14,5],"nice":false,"zero":false},"title":null}}}
  ]},
  {"width":99,"height":85,"data":{"values":[]},"mark":"point"}
]
}
